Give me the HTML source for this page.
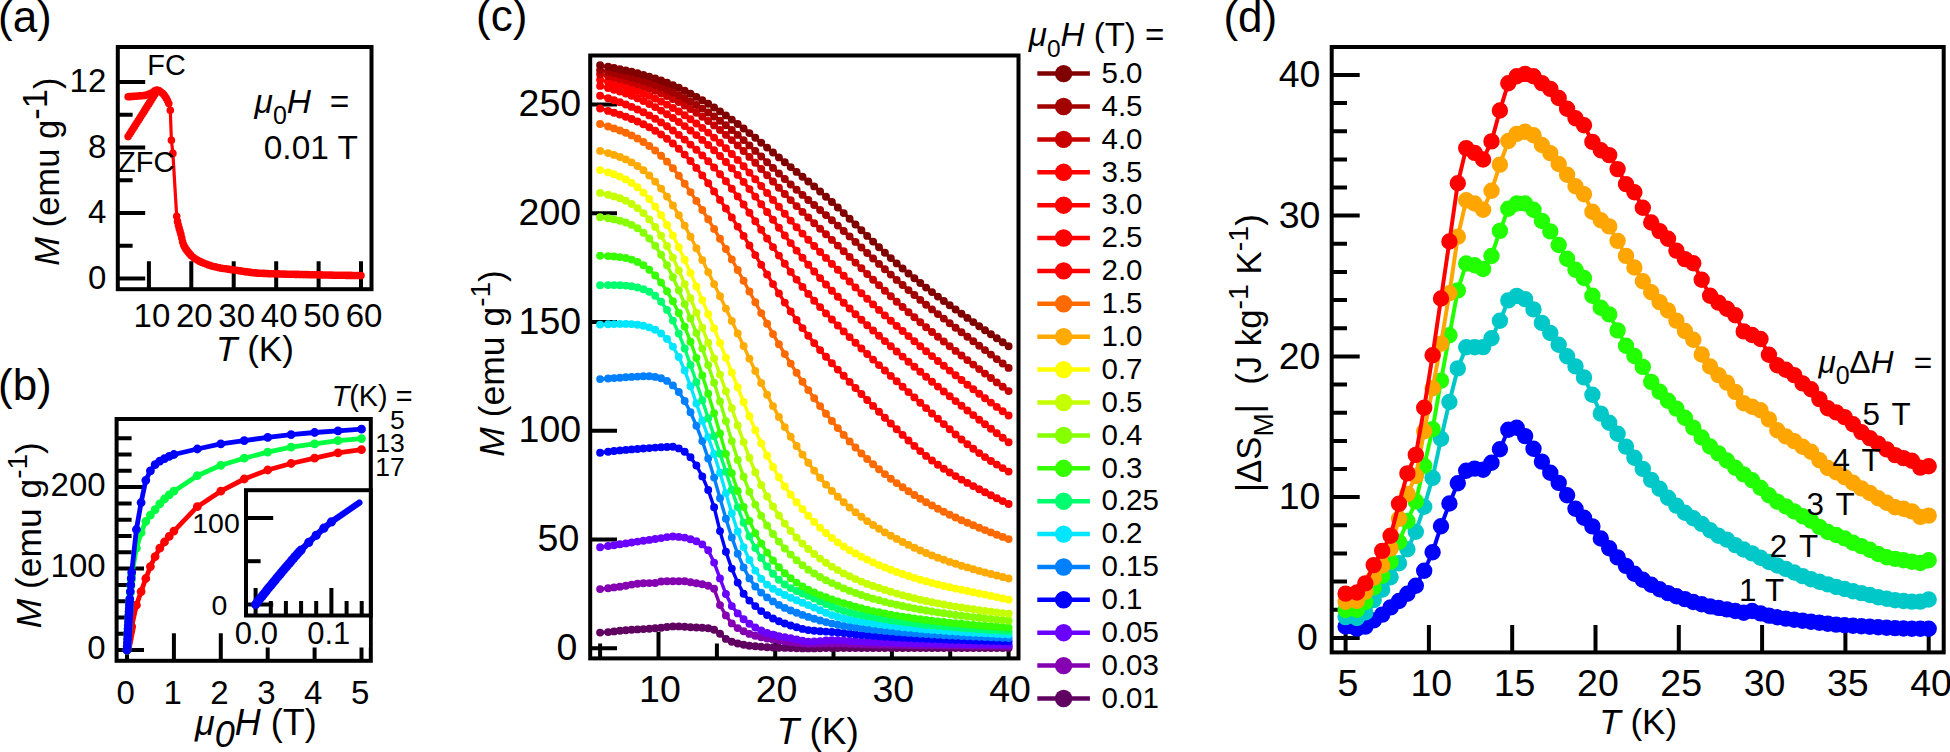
<!DOCTYPE html>
<html lang="en"><head><meta charset="utf-8"><title>Magnetization and magnetic entropy change</title>
<style>
html,body{margin:0;padding:0;background:#fff;}
body{width:1950px;height:752px;overflow:hidden;}
svg{display:block;font-family:"Liberation Sans", sans-serif;fill:#000;}
</style></head><body>
<svg width="1950" height="752" viewBox="0 0 1950 752">
<rect width="1950" height="752" fill="#fff"/>
<g id="pa">
<path d="M148.9 289.2v-28M191.3 289.2v-28M233.7 289.2v-28M276.2 289.2v-28M318.6 289.2v-28M361 289.2v-28" stroke="#000" stroke-width="4.0" fill="none"/>
<path d="M117.8 278.5h27.4M117.8 213h27.4M117.8 147.5h27.4M117.8 81.9h27.4" stroke="#000" stroke-width="4.0" fill="none"/>
<path d="M117.8 245.7h14.8M117.8 180.2h14.8M117.8 114.7h14.8" stroke="#000" stroke-width="4.0" fill="none"/>
<rect x="117.8" y="47" width="253.7" height="242.2" fill="none" stroke="#000" stroke-width="4.0"/>
<path d="M128.1 136.6L129.4 134.6L130.7 132.6L131.9 130.6L133.2 128.6L134.5 126.6L135.7 124.6L137 122.5L138.3 120.5L139.6 118.5L140.8 116.5L142.1 114.5L143.4 112.5L144.7 110.4L145.9 108.4L147.2 106.4L148.5 104.4L149.7 102.4L151 100.4L152.3 98.3L153.6 96.3L154.8 94.3L156.1 92.3L157.4 90.3" fill="none" stroke="#ff0000" stroke-width="3.2" stroke-linejoin="round" stroke-linecap="round"/>
<path d="M128.1 136.6h.01M129.4 134.6h.01M130.7 132.6h.01M131.9 130.6h.01M133.2 128.6h.01M134.5 126.6h.01M135.7 124.6h.01M137 122.5h.01M138.3 120.5h.01M139.6 118.5h.01M140.8 116.5h.01M142.1 114.5h.01M143.4 112.5h.01M144.7 110.4h.01M145.9 108.4h.01M147.2 106.4h.01M148.5 104.4h.01M149.7 102.4h.01M151 100.4h.01M152.3 98.3h.01M153.6 96.3h.01M154.8 94.3h.01M156.1 92.3h.01M157.4 90.3h.01" fill="none" stroke="#ff0000" stroke-width="7.6" stroke-linecap="round"/>
<path d="M128.1 96.7L129.4 96.6L130.7 96.6L131.9 96.5L133.2 96.4L134.5 96.3L135.7 96.2L137 96.1L138.3 96L139.6 95.9L140.8 95.8L142.1 95.7L143.4 95.5L144.7 95.4L145.9 95.1L147.2 94.8L148.5 94.4L149.7 93.9L151 93.4L152.3 92.7L153.6 91.8L154.8 90.9L156.1 90.3L157.4 90.2L158.7 90.6L159.9 91.3L161.2 92.3L162.5 93.3L163.7 94.6L165 96.3L166.3 98.4L167.6 100.8L168.8 103.6L170.3 110.3L171.4 140.3L172.9 153.4L176.7 216.3L177.5 221.4L178.4 225.2L179.2 228.4L180.1 231.2L180.9 234.3L181.8 238.1L182.6 241.8L183.5 244.5L184.3 246.3L185.2 247.9L186 249.2L186.9 250.4L187.7 251.5L188.6 252.6L189.4 253.6L190.3 254.6L191.1 255.5L191.3 255.7L193.4 257.5L195.6 259L197.7 260.3L199.8 261.4L201.9 262.4L204 263.3L206.2 264.1L208.3 264.9L210.4 265.6L212.5 266.2L214.7 266.8L216.8 267.3L218.9 267.8L221 268.2L223.1 268.5L225.3 268.8L227.4 269.1L229.5 269.4L231.6 269.7L233.7 270L235.9 270.3L238 270.6L240.1 270.9L242.2 271.2L244.3 271.6L246.5 271.9L248.6 272.1L250.7 272.4L252.8 272.7L254.9 272.9L257.1 273.1L259.2 273.2L261.3 273.3L263.4 273.4L265.6 273.5L267.7 273.6L269.8 273.7L271.9 273.8L274 273.8L276.2 273.9L278.3 273.9L280.4 274L282.5 274.1L284.6 274.1L286.8 274.2L288.9 274.2L291 274.3L293.1 274.3L295.2 274.4L297.4 274.4L299.5 274.5L301.6 274.5L303.7 274.6L305.9 274.6L308 274.6L310.1 274.7L312.2 274.7L314.3 274.8L316.5 274.8L318.6 274.9L320.7 274.9L322.8 275L324.9 275L327.1 275L329.2 275.1L331.3 275.1L333.4 275.2L335.5 275.2L337.7 275.2L339.8 275.3L341.9 275.3L344 275.3L346.2 275.4L348.3 275.4L350.4 275.4L352.5 275.5L354.6 275.5L356.8 275.5L358.9 275.5L361 275.6" fill="none" stroke="#ff0000" stroke-width="3.2" stroke-linejoin="round" stroke-linecap="round"/>
<path d="M128.1 96.7h.01M129.4 96.6h.01M130.7 96.6h.01M131.9 96.5h.01M133.2 96.4h.01M134.5 96.3h.01M135.7 96.2h.01M137 96.1h.01M138.3 96h.01M139.6 95.9h.01M140.8 95.8h.01M142.1 95.7h.01M143.4 95.5h.01M144.7 95.4h.01M145.9 95.1h.01M147.2 94.8h.01M148.5 94.4h.01M149.7 93.9h.01M151 93.4h.01M152.3 92.7h.01M153.6 91.8h.01M154.8 90.9h.01M156.1 90.3h.01M157.4 90.2h.01M158.7 90.6h.01M159.9 91.3h.01M161.2 92.3h.01M162.5 93.3h.01M163.7 94.6h.01M165 96.3h.01M166.3 98.4h.01M167.6 100.8h.01M168.8 103.6h.01M170.3 110.3h.01M171.4 140.3h.01M172.9 153.4h.01M176.7 216.3h.01M177.5 221.4h.01M178.4 225.2h.01M179.2 228.4h.01M180.1 231.2h.01M180.9 234.3h.01M181.8 238.1h.01M182.6 241.8h.01M183.5 244.5h.01M184.3 246.3h.01M185.2 247.9h.01M186 249.2h.01M186.9 250.4h.01M187.7 251.5h.01M188.6 252.6h.01M189.4 253.6h.01M190.3 254.6h.01M191.1 255.5h.01M191.3 255.7h.01M193.4 257.5h.01M195.6 259h.01M197.7 260.3h.01M199.8 261.4h.01M201.9 262.4h.01M204 263.3h.01M206.2 264.1h.01M208.3 264.9h.01M210.4 265.6h.01M212.5 266.2h.01M214.7 266.8h.01M216.8 267.3h.01M218.9 267.8h.01M221 268.2h.01M223.1 268.5h.01M225.3 268.8h.01M227.4 269.1h.01M229.5 269.4h.01M231.6 269.7h.01M233.7 270h.01M235.9 270.3h.01M238 270.6h.01M240.1 270.9h.01M242.2 271.2h.01M244.3 271.6h.01M246.5 271.9h.01M248.6 272.1h.01M250.7 272.4h.01M252.8 272.7h.01M254.9 272.9h.01M257.1 273.1h.01M259.2 273.2h.01M261.3 273.3h.01M263.4 273.4h.01M265.6 273.5h.01M267.7 273.6h.01M269.8 273.7h.01M271.9 273.8h.01M274 273.8h.01M276.2 273.9h.01M278.3 273.9h.01M280.4 274h.01M282.5 274.1h.01M284.6 274.1h.01M286.8 274.2h.01M288.9 274.2h.01M291 274.3h.01M293.1 274.3h.01M295.2 274.4h.01M297.4 274.4h.01M299.5 274.5h.01M301.6 274.5h.01M303.7 274.6h.01M305.9 274.6h.01M308 274.6h.01M310.1 274.7h.01M312.2 274.7h.01M314.3 274.8h.01M316.5 274.8h.01M318.6 274.9h.01M320.7 274.9h.01M322.8 275h.01M324.9 275h.01M327.1 275h.01M329.2 275.1h.01M331.3 275.1h.01M333.4 275.2h.01M335.5 275.2h.01M337.7 275.2h.01M339.8 275.3h.01M341.9 275.3h.01M344 275.3h.01M346.2 275.4h.01M348.3 275.4h.01M350.4 275.4h.01M352.5 275.5h.01M354.6 275.5h.01M356.8 275.5h.01M358.9 275.5h.01M361 275.6h.01" fill="none" stroke="#ff0000" stroke-width="7.6" stroke-linecap="round"/>
<text x="106.3" y="288.9" font-size="33" text-anchor="end">0</text>
<text x="106.3" y="223.4" font-size="33" text-anchor="end">4</text>
<text x="106.3" y="157.9" font-size="33" text-anchor="end">8</text>
<text x="106.3" y="92.3" font-size="33" text-anchor="end">12</text>
<text x="151.9" y="327.2" font-size="33" text-anchor="middle">10</text>
<text x="194.3" y="327.2" font-size="33" text-anchor="middle">20</text>
<text x="236.7" y="327.2" font-size="33" text-anchor="middle">30</text>
<text x="279.2" y="327.2" font-size="33" text-anchor="middle">40</text>
<text x="321.6" y="327.2" font-size="33" text-anchor="middle">50</text>
<text x="364" y="327.2" font-size="33" text-anchor="middle">60</text>
<text x="-2" y="31.6" font-size="44" text-anchor="start">(a)</text>
<text x="216.1" y="361" font-size="35" text-anchor="start"><tspan font-style="italic">T</tspan> (K)</text>
<text transform="translate(59 265.8) rotate(-90)" font-size="34.6"><tspan font-style="italic">M</tspan> (emu g<tspan font-size="34.6" dy="-11.7">-1</tspan><tspan dy="11.7">&#8203;</tspan>)</text>
<text x="147.3" y="75.2" font-size="28.8" text-anchor="start">FC</text>
<text x="118" y="172.3" font-size="29" text-anchor="start">ZFC</text>
<text x="254.6" y="113.1" font-size="33.5" text-anchor="start"><tspan font-style="italic">&#956;</tspan><tspan font-size="25" dy="10.5">0</tspan><tspan dy="-10.5">&#8203;</tspan><tspan font-style="italic">H</tspan>&#160;&#160;=</text>
<text x="263.8" y="158.9" font-size="33.4" text-anchor="start">0.01 T</text>
</g>
<g id="pb">
<path d="M127 660.8v-27.6M173.9 660.8v-27.6M220.8 660.8v-27.6M267.7 660.8v-27.6M314.6 660.8v-27.6M361.5 660.8v-27.6" stroke="#000" stroke-width="4.0" fill="none"/>
<path d="M116.6 650.1h27.4M116.6 568.6h27.4M116.6 487.1h27.4" stroke="#000" stroke-width="4.0" fill="none"/>
<path d="M116.6 633.8h15M116.6 617.5h15M116.6 601.2h15M116.6 584.9h15M116.6 552.3h15M116.6 536h15M116.6 519.7h15M116.6 503.4h15M116.6 470.8h15M116.6 454.5h15M116.6 438.2h15" stroke="#000" stroke-width="4.0" fill="none"/>
<rect x="116.6" y="419" width="254.2" height="241.8" fill="none" stroke="#000" stroke-width="4.0"/>
<path d="M127 650.1L127.2 649.1L127.4 648.1L127.6 647.1L127.8 646.1L127.9 645.2L128.1 644.2L128.3 643.2L128.5 642.2L128.7 641.3L128.9 640.3L129.1 639.4L129.3 638.4L129.4 637.5L129.6 636.5L129.8 635.6L130.3 633.3L130.8 631L131.2 628.7L131.7 626.5L136.4 605.2L141.1 591.6L145.8 578.5L150.4 566.6L155.1 556.6L159.8 548.2L164.5 542L169.2 536.4L173.9 531.1L197.3 506.7L220.8 491.2L244.2 479L267.7 470L291.1 463.5L314.6 458.2L338 452.9L361.5 449.6" fill="none" stroke="#ff0000" stroke-width="4.8" stroke-linejoin="round" stroke-linecap="round"/>
<path d="M127 650.1h.01M127.2 649.1h.01M127.4 648.1h.01M127.6 647.1h.01M127.8 646.1h.01M127.9 645.2h.01M128.1 644.2h.01M128.3 643.2h.01M128.5 642.2h.01M128.7 641.3h.01M128.9 640.3h.01M129.1 639.4h.01M129.3 638.4h.01M129.4 637.5h.01M129.6 636.5h.01M129.8 635.6h.01M130.3 633.3h.01M130.8 631h.01M131.2 628.7h.01M131.7 626.5h.01M136.4 605.2h.01M141.1 591.6h.01M145.8 578.5h.01M150.4 566.6h.01M155.1 556.6h.01M159.8 548.2h.01M164.5 542h.01M169.2 536.4h.01M173.9 531.1h.01M197.3 506.7h.01M220.8 491.2h.01M244.2 479h.01M267.7 470h.01M291.1 463.5h.01M314.6 458.2h.01M338 452.9h.01M361.5 449.6h.01" fill="none" stroke="#ff0000" stroke-width="8.8" stroke-linecap="round"/>
<path d="M127 650.1L127.2 646.4L127.4 642.8L127.6 639.2L127.8 635.7L127.9 632.2L128.1 628.7L128.3 625.2L128.5 621.7L128.7 618.4L128.9 615.1L129.1 611.8L129.3 608.6L129.4 605.5L129.6 602.5L129.8 599.6L130.3 592.8L130.8 586.5L131.2 580.3L131.7 575.1L136.4 548.2L141.1 532.7L145.8 521.3L150.4 515.1L155.1 509.6L159.8 503.8L164.5 499L169.2 494.9L173.9 491.2L197.3 475.7L220.8 465.3L244.2 458.2L267.7 452.1L291.1 447.2L314.6 443.9L338 440.6L361.5 438.6" fill="none" stroke="#00ff40" stroke-width="4.8" stroke-linejoin="round" stroke-linecap="round"/>
<path d="M127 650.1h.01M127.2 646.4h.01M127.4 642.8h.01M127.6 639.2h.01M127.8 635.7h.01M127.9 632.2h.01M128.1 628.7h.01M128.3 625.2h.01M128.5 621.7h.01M128.7 618.4h.01M128.9 615.1h.01M129.1 611.8h.01M129.3 608.6h.01M129.4 605.5h.01M129.6 602.5h.01M129.8 599.6h.01M130.3 592.8h.01M130.8 586.5h.01M131.2 580.3h.01M131.7 575.1h.01M136.4 548.2h.01M141.1 532.7h.01M145.8 521.3h.01M150.4 515.1h.01M155.1 509.6h.01M159.8 503.8h.01M164.5 499h.01M169.2 494.9h.01M173.9 491.2h.01M197.3 475.7h.01M220.8 465.3h.01M244.2 458.2h.01M267.7 452.1h.01M291.1 447.2h.01M314.6 443.9h.01M338 440.6h.01M361.5 438.6h.01" fill="none" stroke="#00ff40" stroke-width="8.8" stroke-linecap="round"/>
<path d="M127 650.1L127.2 646.4L127.4 642.8L127.6 639.2L127.8 635.7L127.9 632.2L128.1 628.7L128.3 625.2L128.5 621.8L128.7 618.4L128.9 615.1L129.1 611.7L129.3 608.4L129.4 605L129.6 601.8L129.8 598.8L130.3 591.6L130.8 584.9L131.2 578.3L131.7 572.3L136.4 529.5L141.1 502.6L145.8 480.3L150.4 470.8L155.1 464.6L159.8 461.1L164.5 458.6L169.2 456.3L173.9 454.5L197.3 449L220.8 443.9L244.2 440.6L267.7 437.4L291.1 434.6L314.6 432.5L338 430.9L361.5 429.2" fill="none" stroke="#0000ff" stroke-width="4.8" stroke-linejoin="round" stroke-linecap="round"/>
<path d="M127 650.1h.01M127.2 646.4h.01M127.4 642.8h.01M127.6 639.2h.01M127.8 635.7h.01M127.9 632.2h.01M128.1 628.7h.01M128.3 625.2h.01M128.5 621.8h.01M128.7 618.4h.01M128.9 615.1h.01M129.1 611.7h.01M129.3 608.4h.01M129.4 605h.01M129.6 601.8h.01M129.8 598.8h.01M130.3 591.6h.01M130.8 584.9h.01M131.2 578.3h.01M131.7 572.3h.01M136.4 529.5h.01M141.1 502.6h.01M145.8 480.3h.01M150.4 470.8h.01M155.1 464.6h.01M159.8 461.1h.01M164.5 458.6h.01M169.2 456.3h.01M173.9 454.5h.01M197.3 449h.01M220.8 443.9h.01M244.2 440.6h.01M267.7 437.4h.01M291.1 434.6h.01M314.6 432.5h.01M338 430.9h.01M361.5 429.2h.01" fill="none" stroke="#0000ff" stroke-width="8.8" stroke-linecap="round"/>
<rect x="246.0" y="490.2" width="124.8" height="125.3" fill="#fff" stroke="none"/>
<rect x="232" y="615.5" width="136.8" height="32" fill="#fff" stroke="none"/>
<path d="M255.6 615.5v-27.4M331.4 615.5v-27.4" stroke="#000" stroke-width="4.0" fill="none"/>
<path d="M270.8 615.5v-14.5M285.9 615.5v-14.5M301.1 615.5v-14.5M316.2 615.5v-14.5M346.6 615.5v-14.5M361.7 615.5v-14.5" stroke="#000" stroke-width="4.0" fill="none"/>
<path d="M246 604.4h27.2M246 518h27.2" stroke="#000" stroke-width="4.0" fill="none"/>
<path d="M246 561.2h14.6" stroke="#000" stroke-width="4.0" fill="none"/>
<rect x="246" y="490.2" width="124.8" height="125.3" fill="none" stroke="#000" stroke-width="4.0"/>
<path d="M255.6 604.4L257.1 602.5L258.6 600.5L260.1 598.6L261.7 596.7L263.2 594.8L264.7 592.9L266.2 591L267.7 589.1L269.2 587.3L270.8 585.4L272.3 583.5L273.8 581.7L275.3 579.9L276.8 578L278.3 576.2L279.9 574.4L281.4 572.6L282.9 570.8L284.4 569L285.9 567.2L287.4 565.5L289 563.7L290.5 561.9L292 560.1L293.5 558.4L295 556.6L296.5 554.9L298 553.2L299.6 551.6L301.1 550L308.7 542.4L316.2 535.3L323.8 528.2L331.4 521.9L359.4 502.6" fill="none" stroke="#0000ff" stroke-width="6.3" stroke-linejoin="round" stroke-linecap="round"/>
<path d="M255.6 604.4h.01M257.1 602.5h.01M258.6 600.5h.01M260.1 598.6h.01M261.7 596.7h.01M263.2 594.8h.01M264.7 592.9h.01M266.2 591h.01M267.7 589.1h.01M269.2 587.3h.01M270.8 585.4h.01M272.3 583.5h.01M273.8 581.7h.01M275.3 579.9h.01M276.8 578h.01M278.3 576.2h.01M279.9 574.4h.01M281.4 572.6h.01M282.9 570.8h.01M284.4 569h.01M285.9 567.2h.01M287.4 565.5h.01M289 563.7h.01M290.5 561.9h.01M292 560.1h.01M293.5 558.4h.01M295 556.6h.01M296.5 554.9h.01M298 553.2h.01M299.6 551.6h.01M301.1 550h.01M308.7 542.4h.01M316.2 535.3h.01M323.8 528.2h.01M331.4 521.9h.01" fill="none" stroke="#0000ff" stroke-width="9.2" stroke-linecap="round"/>
<text x="239.8" y="533.4" font-size="28.5" text-anchor="end">100</text>
<text x="227.4" y="614.8" font-size="28.5" text-anchor="end">0</text>
<text x="256.4" y="643.7" font-size="31" text-anchor="middle">0.0</text>
<text x="328.8" y="643.7" font-size="31" text-anchor="middle">0.1</text>
<text x="105.6" y="658.9" font-size="33" text-anchor="end">0</text>
<text x="105.6" y="577.4" font-size="33" text-anchor="end">100</text>
<text x="105.6" y="495.9" font-size="33" text-anchor="end">200</text>
<text x="125.7" y="703.6" font-size="33" text-anchor="middle">0</text>
<text x="172.6" y="703.6" font-size="33" text-anchor="middle">1</text>
<text x="219.5" y="703.6" font-size="33" text-anchor="middle">2</text>
<text x="266.4" y="703.6" font-size="33" text-anchor="middle">3</text>
<text x="313.3" y="703.6" font-size="33" text-anchor="middle">4</text>
<text x="360.2" y="703.6" font-size="33" text-anchor="middle">5</text>
<text x="-2" y="399.6" font-size="44" text-anchor="start">(b)</text>
<text transform="translate(41 628.3) rotate(-90)" font-size="35.4"><tspan font-style="italic">M</tspan> (emu g<tspan font-size="28" dy="-14">-1</tspan><tspan dy="14">&#8203;</tspan>)</text>
<text x="194.9" y="734.6" font-size="36" text-anchor="start"><tspan font-style="italic">&#956;</tspan><tspan font-size="36" dy="12" font-style="italic">0</tspan><tspan dy="-12">&#8203;</tspan><tspan font-style="italic">H</tspan> (T)</text>
<text x="331.7" y="406.3" font-size="28.8" text-anchor="start"><tspan font-style="italic">T</tspan>(K) =</text>
<text x="404.8" y="428.7" font-size="26.5" text-anchor="end">5</text>
<text x="404.8" y="451.8" font-size="26.5" text-anchor="end">13</text>
<text x="404.8" y="475.7" font-size="26.5" text-anchor="end">17</text>
</g>
<g id="pc">
<path d="M658.5 658.4v-26.6M775.2 658.4v-26.6M891.9 658.4v-26.6M1008.6 658.4v-26.6" stroke="#000" stroke-width="4.0" fill="none"/>
<path d="M600.1 658.4v-15M716.9 658.4v-15M833.5 658.4v-15M950.2 658.4v-15" stroke="#000" stroke-width="4.0" fill="none"/>
<path d="M590.2 648.3h26.8M590.2 539.5h26.8M590.2 430.8h26.8M590.2 322h26.8M590.2 213.3h26.8M590.2 104.5h26.8" stroke="#000" stroke-width="4.0" fill="none"/>
<rect x="590.2" y="55.5" width="428.3" height="602.9" fill="none" stroke="#000" stroke-width="4.0"/>
<path d="M600.1 632.6L608.1 632.1L614 631.4L619.9 630.7L625.8 630.2L631.6 629.8L637.5 629.4L643.4 629.1L649.3 628.7L655.2 628.3L661.1 627.7L667 627L672.9 626.4L678.8 626.4L684.7 626.8L690.5 627.2L696.4 627.5L702.3 627.8L708.2 628.3L714.1 629.7L720 633.7L725.9 638.9L731.8 641.7L737.7 643.5L743.6 644.8L749.4 645.7L755.3 646.3L761.2 646.8L767.1 647.2L773 647.5L778.9 647.7L784.8 647.9L790.7 648.1L796.6 648.3L802.5 648.4L808.3 648.4L814.2 648.4L820.1 648.2L826 648.1L831.9 648L837.8 648L843.7 648L849.6 648L855.5 648L861.4 648L867.2 648L873.1 648L879 648L884.9 648L890.8 648L896.7 648L902.6 648L908.5 648L914.4 648L920.3 648L926.1 648L932 648L937.9 648L943.8 648L949.7 648L955.6 648L961.5 648L967.4 648L973.3 648L979.2 648L985 648L990.9 648L996.8 648L1002.7 648L1008.6 648" fill="none" stroke="#600060" stroke-width="3.4" stroke-linejoin="round" stroke-linecap="round"/>
<path d="M600.1 632.6h.01M608.1 632.1h.01M614 631.4h.01M619.9 630.7h.01M625.8 630.2h.01M631.6 629.8h.01M637.5 629.4h.01M643.4 629.1h.01M649.3 628.7h.01M655.2 628.3h.01M661.1 627.7h.01M667 627h.01M672.9 626.4h.01M678.8 626.4h.01M684.7 626.8h.01M690.5 627.2h.01M696.4 627.5h.01M702.3 627.8h.01M708.2 628.3h.01M714.1 629.7h.01M720 633.7h.01M725.9 638.9h.01M731.8 641.7h.01M737.7 643.5h.01M743.6 644.8h.01M749.4 645.7h.01M755.3 646.3h.01M761.2 646.8h.01M767.1 647.2h.01M773 647.5h.01M778.9 647.7h.01M784.8 647.9h.01M790.7 648.1h.01M796.6 648.3h.01M802.5 648.4h.01M808.3 648.4h.01M814.2 648.4h.01M820.1 648.2h.01M826 648.1h.01M831.9 648h.01M837.8 648h.01M843.7 648h.01M849.6 648h.01M855.5 648h.01M861.4 648h.01M867.2 648h.01M873.1 648h.01M879 648h.01M884.9 648h.01M890.8 648h.01M896.7 648h.01M902.6 648h.01M908.5 648h.01M914.4 648h.01M920.3 648h.01M926.1 648h.01M932 648h.01M937.9 648h.01M943.8 648h.01M949.7 648h.01M955.6 648h.01M961.5 648h.01M967.4 648h.01M973.3 648h.01M979.2 648h.01M985 648h.01M990.9 648h.01M996.8 648h.01M1002.7 648h.01M1008.6 648h.01" fill="none" stroke="#600060" stroke-width="7.9" stroke-linecap="round"/>
<path d="M600.1 589.1L608.1 588.2L614 587.4L619.9 586.7L625.8 585.8L631.6 584.6L637.5 583.7L643.4 583.2L649.3 583.1L655.2 583L661.1 581.5L667 581.2L672.9 581.2L678.8 581.2L684.7 581.3L690.5 582.2L696.4 583.2L702.3 584.2L708.2 585.8L714.1 588.8L720 605.1L725.9 615.4L731.8 623.4L737.7 628.1L743.6 631.3L749.4 633.9L755.3 635.8L761.2 637.3L767.1 638.5L773 639.6L778.9 640.5L784.8 641.4L790.7 642.3L796.6 643L802.5 643.6L808.3 643.9L814.2 643.8L820.1 643.7L826 643.5L831.9 643.5L837.8 643.5L843.7 643.6L849.6 643.9L855.5 644.1L861.4 644.3L867.2 644.4L873.1 644.6L879 644.7L884.9 644.8L890.8 644.9L896.7 645L902.6 645.1L908.5 645.2L914.4 645.3L920.3 645.4L926.1 645.5L932 645.5L937.9 645.6L943.8 645.7L949.7 645.7L955.6 645.8L961.5 645.9L967.4 645.9L973.3 646L979.2 646L985 646.1L990.9 646.1L996.8 646.1L1002.7 646.2L1008.6 646.2" fill="none" stroke="#8400b0" stroke-width="3.4" stroke-linejoin="round" stroke-linecap="round"/>
<path d="M600.1 589.1h.01M608.1 588.2h.01M614 587.4h.01M619.9 586.7h.01M625.8 585.8h.01M631.6 584.6h.01M637.5 583.7h.01M643.4 583.2h.01M649.3 583.1h.01M655.2 583h.01M661.1 581.5h.01M667 581.2h.01M672.9 581.2h.01M678.8 581.2h.01M684.7 581.3h.01M690.5 582.2h.01M696.4 583.2h.01M702.3 584.2h.01M708.2 585.8h.01M714.1 588.8h.01M720 605.1h.01M725.9 615.4h.01M731.8 623.4h.01M737.7 628.1h.01M743.6 631.3h.01M749.4 633.9h.01M755.3 635.8h.01M761.2 637.3h.01M767.1 638.5h.01M773 639.6h.01M778.9 640.5h.01M784.8 641.4h.01M790.7 642.3h.01M796.6 643h.01M802.5 643.6h.01M808.3 643.9h.01M814.2 643.8h.01M820.1 643.7h.01M826 643.5h.01M831.9 643.5h.01M837.8 643.5h.01M843.7 643.6h.01M849.6 643.9h.01M855.5 644.1h.01M861.4 644.3h.01M867.2 644.4h.01M873.1 644.6h.01M879 644.7h.01M884.9 644.8h.01M890.8 644.9h.01M896.7 645h.01M902.6 645.1h.01M908.5 645.2h.01M914.4 645.3h.01M920.3 645.4h.01M926.1 645.5h.01M932 645.5h.01M937.9 645.6h.01M943.8 645.7h.01M949.7 645.7h.01M955.6 645.8h.01M961.5 645.9h.01M967.4 645.9h.01M973.3 646h.01M979.2 646h.01M985 646.1h.01M990.9 646.1h.01M996.8 646.1h.01M1002.7 646.2h.01M1008.6 646.2h.01" fill="none" stroke="#8400b0" stroke-width="7.9" stroke-linecap="round"/>
<path d="M600.1 547.2L608.1 546L614 545.2L619.9 544.3L625.8 543.4L631.6 542.5L637.5 541.6L643.4 540.7L649.3 539.9L655.2 539L661.1 538.1L667 537.1L672.9 536.5L678.8 536.9L684.7 537.6L690.5 539.2L696.4 541.3L702.3 544.4L708.2 550.3L714.1 562.6L720 578.4L725.9 594L731.8 606.1L737.7 613.4L743.6 619.2L749.4 623.8L755.3 627.5L761.2 630.5L767.1 632.9L773 634.8L778.9 636.2L784.8 637.3L790.7 638.3L796.6 639.4L802.5 640.7L808.3 641.6L814.2 641.5L820.1 641.1L826 640.5L831.9 640.2L837.8 640.3L843.7 640.5L849.6 640.9L855.5 641.3L861.4 641.6L867.2 641.9L873.1 642.1L879 642.3L884.9 642.5L890.8 642.7L896.7 642.9L902.6 643L908.5 643.2L914.4 643.3L920.3 643.4L926.1 643.6L932 643.7L937.9 643.8L943.8 643.9L949.7 644L955.6 644.1L961.5 644.2L967.4 644.3L973.3 644.4L979.2 644.5L985 644.6L990.9 644.6L996.8 644.7L1002.7 644.8L1008.6 644.9" fill="none" stroke="#6a00ff" stroke-width="3.4" stroke-linejoin="round" stroke-linecap="round"/>
<path d="M600.1 547.2h.01M608.1 546h.01M614 545.2h.01M619.9 544.3h.01M625.8 543.4h.01M631.6 542.5h.01M637.5 541.6h.01M643.4 540.7h.01M649.3 539.9h.01M655.2 539h.01M661.1 538.1h.01M667 537.1h.01M672.9 536.5h.01M678.8 536.9h.01M684.7 537.6h.01M690.5 539.2h.01M696.4 541.3h.01M702.3 544.4h.01M708.2 550.3h.01M714.1 562.6h.01M720 578.4h.01M725.9 594h.01M731.8 606.1h.01M737.7 613.4h.01M743.6 619.2h.01M749.4 623.8h.01M755.3 627.5h.01M761.2 630.5h.01M767.1 632.9h.01M773 634.8h.01M778.9 636.2h.01M784.8 637.3h.01M790.7 638.3h.01M796.6 639.4h.01M802.5 640.7h.01M808.3 641.6h.01M814.2 641.5h.01M820.1 641.1h.01M826 640.5h.01M831.9 640.2h.01M837.8 640.3h.01M843.7 640.5h.01M849.6 640.9h.01M855.5 641.3h.01M861.4 641.6h.01M867.2 641.9h.01M873.1 642.1h.01M879 642.3h.01M884.9 642.5h.01M890.8 642.7h.01M896.7 642.9h.01M902.6 643h.01M908.5 643.2h.01M914.4 643.3h.01M920.3 643.4h.01M926.1 643.6h.01M932 643.7h.01M937.9 643.8h.01M943.8 643.9h.01M949.7 644h.01M955.6 644.1h.01M961.5 644.2h.01M967.4 644.3h.01M973.3 644.4h.01M979.2 644.5h.01M985 644.6h.01M990.9 644.6h.01M996.8 644.7h.01M1002.7 644.8h.01M1008.6 644.9h.01" fill="none" stroke="#6a00ff" stroke-width="7.9" stroke-linecap="round"/>
<path d="M600.1 452.8L608.1 451.7L614 451L619.9 450.4L625.8 449.9L631.6 449.4L637.5 449L643.4 448.5L649.3 448.1L655.2 447.6L661.1 447.3L667 447L672.9 446.8L678.8 448.4L684.7 451.7L690.5 457.2L696.4 465.5L702.3 476.4L708.2 490L714.1 507.3L720 531.1L725.9 551.7L731.8 568.6L737.7 582.6L743.6 593.8L749.4 600.6L755.3 606.1L761.2 611.1L767.1 615.1L773 618.5L778.9 621.2L784.8 623.5L790.7 625.5L796.6 627.2L802.5 628.9L808.3 630.1L814.2 630.8L820.1 631.2L826 631.6L831.9 632L837.8 632.5L843.7 633.1L849.6 633.8L855.5 634.4L861.4 635L867.2 635.4L873.1 635.9L879 636.3L884.9 636.7L890.8 637.1L896.7 637.4L902.6 637.7L908.5 638L914.4 638.3L920.3 638.6L926.1 638.8L932 639.1L937.9 639.3L943.8 639.5L949.7 639.8L955.6 640L961.5 640.1L967.4 640.3L973.3 640.5L979.2 640.7L985 640.8L990.9 641L996.8 641.1L1002.7 641.3L1008.6 641.4" fill="none" stroke="#0000ff" stroke-width="3.4" stroke-linejoin="round" stroke-linecap="round"/>
<path d="M600.1 452.8h.01M608.1 451.7h.01M614 451h.01M619.9 450.4h.01M625.8 449.9h.01M631.6 449.4h.01M637.5 449h.01M643.4 448.5h.01M649.3 448.1h.01M655.2 447.6h.01M661.1 447.3h.01M667 447h.01M672.9 446.8h.01M678.8 448.4h.01M684.7 451.7h.01M690.5 457.2h.01M696.4 465.5h.01M702.3 476.4h.01M708.2 490h.01M714.1 507.3h.01M720 531.1h.01M725.9 551.7h.01M731.8 568.6h.01M737.7 582.6h.01M743.6 593.8h.01M749.4 600.6h.01M755.3 606.1h.01M761.2 611.1h.01M767.1 615.1h.01M773 618.5h.01M778.9 621.2h.01M784.8 623.5h.01M790.7 625.5h.01M796.6 627.2h.01M802.5 628.9h.01M808.3 630.1h.01M814.2 630.8h.01M820.1 631.2h.01M826 631.6h.01M831.9 632h.01M837.8 632.5h.01M843.7 633.1h.01M849.6 633.8h.01M855.5 634.4h.01M861.4 635h.01M867.2 635.4h.01M873.1 635.9h.01M879 636.3h.01M884.9 636.7h.01M890.8 637.1h.01M896.7 637.4h.01M902.6 637.7h.01M908.5 638h.01M914.4 638.3h.01M920.3 638.6h.01M926.1 638.8h.01M932 639.1h.01M937.9 639.3h.01M943.8 639.5h.01M949.7 639.8h.01M955.6 640h.01M961.5 640.1h.01M967.4 640.3h.01M973.3 640.5h.01M979.2 640.7h.01M985 640.8h.01M990.9 641h.01M996.8 641.1h.01M1002.7 641.3h.01M1008.6 641.4h.01" fill="none" stroke="#0000ff" stroke-width="7.9" stroke-linecap="round"/>
<path d="M600.1 379.1L608.1 378.5L614 378.1L619.9 377.7L625.8 377.3L631.6 376.9L637.5 376.6L643.4 376.3L649.3 376.3L655.2 376.9L661.1 378.3L667 380.9L672.9 385.4L678.8 392L684.7 401L690.5 412.3L696.4 425.7L702.3 441.1L708.2 458.5L714.1 477.6L720 498.2L725.9 518.7L731.8 537.4L737.7 553.7L743.6 567.4L749.4 578.4L755.3 586.5L761.2 592.6L767.1 597.4L773 601.4L778.9 604.9L784.8 607.9L790.7 610.5L796.6 612.8L802.5 614.9L808.3 616.9L814.2 618.7L820.1 620.5L826 622.1L831.9 623.6L837.8 624.8L843.7 625.9L849.6 626.8L855.5 627.6L861.4 628.3L867.2 629L873.1 629.7L879 630.3L884.9 630.9L890.8 631.4L896.7 632L902.6 632.4L908.5 632.9L914.4 633.3L920.3 633.7L926.1 634.1L932 634.5L937.9 634.8L943.8 635.2L949.7 635.5L955.6 635.8L961.5 636.1L967.4 636.3L973.3 636.6L979.2 636.8L985 637.1L990.9 637.3L996.8 637.5L1002.7 637.7L1008.6 638" fill="none" stroke="#0080ff" stroke-width="3.4" stroke-linejoin="round" stroke-linecap="round"/>
<path d="M600.1 379.1h.01M608.1 378.5h.01M614 378.1h.01M619.9 377.7h.01M625.8 377.3h.01M631.6 376.9h.01M637.5 376.6h.01M643.4 376.3h.01M649.3 376.3h.01M655.2 376.9h.01M661.1 378.3h.01M667 380.9h.01M672.9 385.4h.01M678.8 392h.01M684.7 401h.01M690.5 412.3h.01M696.4 425.7h.01M702.3 441.1h.01M708.2 458.5h.01M714.1 477.6h.01M720 498.2h.01M725.9 518.7h.01M731.8 537.4h.01M737.7 553.7h.01M743.6 567.4h.01M749.4 578.4h.01M755.3 586.5h.01M761.2 592.6h.01M767.1 597.4h.01M773 601.4h.01M778.9 604.9h.01M784.8 607.9h.01M790.7 610.5h.01M796.6 612.8h.01M802.5 614.9h.01M808.3 616.9h.01M814.2 618.7h.01M820.1 620.5h.01M826 622.1h.01M831.9 623.6h.01M837.8 624.8h.01M843.7 625.9h.01M849.6 626.8h.01M855.5 627.6h.01M861.4 628.3h.01M867.2 629h.01M873.1 629.7h.01M879 630.3h.01M884.9 630.9h.01M890.8 631.4h.01M896.7 632h.01M902.6 632.4h.01M908.5 632.9h.01M914.4 633.3h.01M920.3 633.7h.01M926.1 634.1h.01M932 634.5h.01M937.9 634.8h.01M943.8 635.2h.01M949.7 635.5h.01M955.6 635.8h.01M961.5 636.1h.01M967.4 636.3h.01M973.3 636.6h.01M979.2 636.8h.01M985 637.1h.01M990.9 637.3h.01M996.8 637.5h.01M1002.7 637.7h.01M1008.6 638h.01" fill="none" stroke="#0080ff" stroke-width="7.9" stroke-linecap="round"/>
<path d="M600.1 324.6L608.1 324.3L614 324.1L619.9 323.9L625.8 323.9L631.6 324.1L637.5 324.7L643.4 325.7L649.3 327.4L655.2 329.8L661.1 333.5L667 338.9L672.9 346.6L678.8 357L684.7 370.4L690.5 386.2L696.4 403.5L702.3 420.8L708.2 437.1L714.1 454L720 472.8L725.9 493.1L731.8 513.2L737.7 531.5L743.6 547.1L749.4 560L755.3 570.6L761.2 578.8L767.1 584.6L773 588.7L778.9 592L784.8 595L790.7 597.8L796.6 600.3L802.5 602.7L808.3 605.1L814.2 607.6L820.1 610.2L826 612.8L831.9 615.1L837.8 617L843.7 618.5L849.6 619.8L855.5 620.8L861.4 621.8L867.2 622.6L873.1 623.5L879 624.3L884.9 625.1L890.8 625.8L896.7 626.5L902.6 627.2L908.5 627.8L914.4 628.3L920.3 628.9L926.1 629.4L932 629.9L937.9 630.3L943.8 630.8L949.7 631.2L955.6 631.6L961.5 632L967.4 632.4L973.3 632.7L979.2 633L985 633.3L990.9 633.6L996.8 633.9L1002.7 634.2L1008.6 634.5" fill="none" stroke="#00e6ff" stroke-width="3.4" stroke-linejoin="round" stroke-linecap="round"/>
<path d="M600.1 324.6h.01M608.1 324.3h.01M614 324.1h.01M619.9 323.9h.01M625.8 323.9h.01M631.6 324.1h.01M637.5 324.7h.01M643.4 325.7h.01M649.3 327.4h.01M655.2 329.8h.01M661.1 333.5h.01M667 338.9h.01M672.9 346.6h.01M678.8 357h.01M684.7 370.4h.01M690.5 386.2h.01M696.4 403.5h.01M702.3 420.8h.01M708.2 437.1h.01M714.1 454h.01M720 472.8h.01M725.9 493.1h.01M731.8 513.2h.01M737.7 531.5h.01M743.6 547.1h.01M749.4 560h.01M755.3 570.6h.01M761.2 578.8h.01M767.1 584.6h.01M773 588.7h.01M778.9 592h.01M784.8 595h.01M790.7 597.8h.01M796.6 600.3h.01M802.5 602.7h.01M808.3 605.1h.01M814.2 607.6h.01M820.1 610.2h.01M826 612.8h.01M831.9 615.1h.01M837.8 617h.01M843.7 618.5h.01M849.6 619.8h.01M855.5 620.8h.01M861.4 621.8h.01M867.2 622.6h.01M873.1 623.5h.01M879 624.3h.01M884.9 625.1h.01M890.8 625.8h.01M896.7 626.5h.01M902.6 627.2h.01M908.5 627.8h.01M914.4 628.3h.01M920.3 628.9h.01M926.1 629.4h.01M932 629.9h.01M937.9 630.3h.01M943.8 630.8h.01M949.7 631.2h.01M955.6 631.6h.01M961.5 632h.01M967.4 632.4h.01M973.3 632.7h.01M979.2 633h.01M985 633.3h.01M990.9 633.6h.01M996.8 633.9h.01M1002.7 634.2h.01M1008.6 634.5h.01" fill="none" stroke="#00e6ff" stroke-width="7.9" stroke-linecap="round"/>
<path d="M600.1 285.3L608.1 285.1L614 285.1L619.9 285.2L625.8 285.6L631.6 286.3L637.5 287.5L643.4 289.2L649.3 291.8L655.2 295.8L661.1 301.7L667 309.9L672.9 320.6L678.8 333.6L684.7 348.5L690.5 364.9L696.4 382.3L702.3 400.2L708.2 418.3L714.1 436.1L720 453.8L725.9 471.8L731.8 489.8L737.7 507.1L743.6 522.8L749.4 536.4L755.3 548L761.2 558L767.1 566.5L773 573.7L778.9 579.7L784.8 584.5L790.7 588.1L796.6 591L802.5 593.5L808.3 595.9L814.2 598.6L820.1 601.4L826 604.1L831.9 606.7L837.8 609L843.7 610.9L849.6 612.5L855.5 613.9L861.4 615.1L867.2 616.2L873.1 617.3L879 618.3L884.9 619.3L890.8 620.2L896.7 621.1L902.6 621.9L908.5 622.6L914.4 623.3L920.3 624L926.1 624.7L932 625.3L937.9 625.9L943.8 626.4L949.7 626.9L955.6 627.4L961.5 627.9L967.4 628.4L973.3 628.8L979.2 629.2L985 629.6L990.9 630L996.8 630.3L1002.7 630.7L1008.6 631.1" fill="none" stroke="#00ff6e" stroke-width="3.4" stroke-linejoin="round" stroke-linecap="round"/>
<path d="M600.1 285.3h.01M608.1 285.1h.01M614 285.1h.01M619.9 285.2h.01M625.8 285.6h.01M631.6 286.3h.01M637.5 287.5h.01M643.4 289.2h.01M649.3 291.8h.01M655.2 295.8h.01M661.1 301.7h.01M667 309.9h.01M672.9 320.6h.01M678.8 333.6h.01M684.7 348.5h.01M690.5 364.9h.01M696.4 382.3h.01M702.3 400.2h.01M708.2 418.3h.01M714.1 436.1h.01M720 453.8h.01M725.9 471.8h.01M731.8 489.8h.01M737.7 507.1h.01M743.6 522.8h.01M749.4 536.4h.01M755.3 548h.01M761.2 558h.01M767.1 566.5h.01M773 573.7h.01M778.9 579.7h.01M784.8 584.5h.01M790.7 588.1h.01M796.6 591h.01M802.5 593.5h.01M808.3 595.9h.01M814.2 598.6h.01M820.1 601.4h.01M826 604.1h.01M831.9 606.7h.01M837.8 609h.01M843.7 610.9h.01M849.6 612.5h.01M855.5 613.9h.01M861.4 615.1h.01M867.2 616.2h.01M873.1 617.3h.01M879 618.3h.01M884.9 619.3h.01M890.8 620.2h.01M896.7 621.1h.01M902.6 621.9h.01M908.5 622.6h.01M914.4 623.3h.01M920.3 624h.01M926.1 624.7h.01M932 625.3h.01M937.9 625.9h.01M943.8 626.4h.01M949.7 626.9h.01M955.6 627.4h.01M961.5 627.9h.01M967.4 628.4h.01M973.3 628.8h.01M979.2 629.2h.01M985 629.6h.01M990.9 630h.01M996.8 630.3h.01M1002.7 630.7h.01M1008.6 631.1h.01" fill="none" stroke="#00ff6e" stroke-width="7.9" stroke-linecap="round"/>
<path d="M600.1 255.8L608.1 256.1L614 256.5L619.9 257.1L625.8 258L631.6 259.6L637.5 261.9L643.4 265.2L649.3 269.7L655.2 275.5L661.1 282.6L667 291.2L672.9 301.3L678.8 313L684.7 326.6L690.5 341.7L696.4 358L702.3 375.4L708.2 393.8L714.1 413.3L720 433.5L725.9 453.9L731.8 473.2L737.7 491L743.6 506.9L749.4 520.9L755.3 533.1L761.2 543.5L767.1 552.6L773 560.5L778.9 567.3L784.8 573.2L790.7 578.2L796.6 582.6L802.5 586.4L808.3 589.7L814.2 592.5L820.1 595.1L826 597.3L831.9 599.4L837.8 601.4L843.7 603.2L849.6 605L855.5 606.7L861.4 608.3L867.2 609.7L873.1 611.1L879 612.3L884.9 613.5L890.8 614.6L896.7 615.6L902.6 616.6L908.5 617.5L914.4 618.4L920.3 619.2L926.1 619.9L932 620.7L937.9 621.4L943.8 622L949.7 622.7L955.6 623.3L961.5 623.8L967.4 624.4L973.3 624.9L979.2 625.4L985 625.9L990.9 626.3L996.8 626.8L1002.7 627.2L1008.6 627.6" fill="none" stroke="#35ff00" stroke-width="3.4" stroke-linejoin="round" stroke-linecap="round"/>
<path d="M600.1 255.8h.01M608.1 256.1h.01M614 256.5h.01M619.9 257.1h.01M625.8 258h.01M631.6 259.6h.01M637.5 261.9h.01M643.4 265.2h.01M649.3 269.7h.01M655.2 275.5h.01M661.1 282.6h.01M667 291.2h.01M672.9 301.3h.01M678.8 313h.01M684.7 326.6h.01M690.5 341.7h.01M696.4 358h.01M702.3 375.4h.01M708.2 393.8h.01M714.1 413.3h.01M720 433.5h.01M725.9 453.9h.01M731.8 473.2h.01M737.7 491h.01M743.6 506.9h.01M749.4 520.9h.01M755.3 533.1h.01M761.2 543.5h.01M767.1 552.6h.01M773 560.5h.01M778.9 567.3h.01M784.8 573.2h.01M790.7 578.2h.01M796.6 582.6h.01M802.5 586.4h.01M808.3 589.7h.01M814.2 592.5h.01M820.1 595.1h.01M826 597.3h.01M831.9 599.4h.01M837.8 601.4h.01M843.7 603.2h.01M849.6 605h.01M855.5 606.7h.01M861.4 608.3h.01M867.2 609.7h.01M873.1 611.1h.01M879 612.3h.01M884.9 613.5h.01M890.8 614.6h.01M896.7 615.6h.01M902.6 616.6h.01M908.5 617.5h.01M914.4 618.4h.01M920.3 619.2h.01M926.1 619.9h.01M932 620.7h.01M937.9 621.4h.01M943.8 622h.01M949.7 622.7h.01M955.6 623.3h.01M961.5 623.8h.01M967.4 624.4h.01M973.3 624.9h.01M979.2 625.4h.01M985 625.9h.01M990.9 626.3h.01M996.8 626.8h.01M1002.7 627.2h.01M1008.6 627.6h.01" fill="none" stroke="#35ff00" stroke-width="7.9" stroke-linecap="round"/>
<path d="M600.1 217.2L608.1 218.3L614 219.4L619.9 220.7L625.8 222.5L631.6 224.9L637.5 228.2L643.4 232.7L649.3 238.5L655.2 245.8L661.1 254.8L667 265.3L672.9 277.3L678.8 290.3L684.7 304.1L690.5 318.4L696.4 333.1L702.3 348.6L708.2 365.1L714.1 382.8L720 401.5L725.9 421.1L731.8 441.1L737.7 459.9L743.6 476.8L749.4 491.7L755.3 504.6L761.2 515.8L767.1 525.5L773 534L778.9 541.6L784.8 548.5L790.7 554.6L796.6 560.2L802.5 565.2L808.3 569.7L814.2 573.5L820.1 577L826 580.2L831.9 583.1L837.8 585.8L843.7 588.4L849.6 590.7L855.5 592.9L861.4 595L867.2 596.9L873.1 598.7L879 600.3L884.9 601.9L890.8 603.4L896.7 604.7L902.6 606L908.5 607.2L914.4 608.4L920.3 609.5L926.1 610.5L932 611.5L937.9 612.4L943.8 613.3L949.7 614.1L955.6 614.9L961.5 615.7L967.4 616.4L973.3 617.1L979.2 617.7L985 618.4L990.9 619L996.8 619.6L1002.7 620.1L1008.6 620.7" fill="none" stroke="#86ff00" stroke-width="3.4" stroke-linejoin="round" stroke-linecap="round"/>
<path d="M600.1 217.2h.01M608.1 218.3h.01M614 219.4h.01M619.9 220.7h.01M625.8 222.5h.01M631.6 224.9h.01M637.5 228.2h.01M643.4 232.7h.01M649.3 238.5h.01M655.2 245.8h.01M661.1 254.8h.01M667 265.3h.01M672.9 277.3h.01M678.8 290.3h.01M684.7 304.1h.01M690.5 318.4h.01M696.4 333.1h.01M702.3 348.6h.01M708.2 365.1h.01M714.1 382.8h.01M720 401.5h.01M725.9 421.1h.01M731.8 441.1h.01M737.7 459.9h.01M743.6 476.8h.01M749.4 491.7h.01M755.3 504.6h.01M761.2 515.8h.01M767.1 525.5h.01M773 534h.01M778.9 541.6h.01M784.8 548.5h.01M790.7 554.6h.01M796.6 560.2h.01M802.5 565.2h.01M808.3 569.7h.01M814.2 573.5h.01M820.1 577h.01M826 580.2h.01M831.9 583.1h.01M837.8 585.8h.01M843.7 588.4h.01M849.6 590.7h.01M855.5 592.9h.01M861.4 595h.01M867.2 596.9h.01M873.1 598.7h.01M879 600.3h.01M884.9 601.9h.01M890.8 603.4h.01M896.7 604.7h.01M902.6 606h.01M908.5 607.2h.01M914.4 608.4h.01M920.3 609.5h.01M926.1 610.5h.01M932 611.5h.01M937.9 612.4h.01M943.8 613.3h.01M949.7 614.1h.01M955.6 614.9h.01M961.5 615.7h.01M967.4 616.4h.01M973.3 617.1h.01M979.2 617.7h.01M985 618.4h.01M990.9 619h.01M996.8 619.6h.01M1002.7 620.1h.01M1008.6 620.7h.01" fill="none" stroke="#86ff00" stroke-width="7.9" stroke-linecap="round"/>
<path d="M600.1 192.9L608.1 194.8L614 196.4L619.9 198.3L625.8 200.8L631.6 204L637.5 208.1L643.4 213.1L649.3 219.4L655.2 226.9L661.1 235.8L667 246L672.9 257.6L678.8 270.4L684.7 284.1L690.5 298.3L696.4 312.8L702.3 327.6L708.2 342.8L714.1 358.5L720 374.6L725.9 391.3L731.8 408.3L737.7 425.4L743.6 442.1L749.4 457.8L755.3 472.2L761.2 485L767.1 496.4L773 506.5L778.9 515.5L784.8 523.6L790.7 530.9L796.6 537.6L802.5 543.6L808.3 549L814.2 554L820.1 558.6L826 562.8L831.9 566.6L837.8 570.1L843.7 573.4L849.6 576.3L855.5 579.1L861.4 581.6L867.2 583.9L873.1 586L879 587.9L884.9 589.9L890.8 591.8L896.7 593.6L902.6 595.3L908.5 596.8L914.4 598.3L920.3 599.7L926.1 601L932 602.3L937.9 603.4L943.8 604.5L949.7 605.6L955.6 606.6L961.5 607.5L967.4 608.4L973.3 609.3L979.2 610.1L985 610.9L990.9 611.6L996.8 612.4L1002.7 613.1L1008.6 613.8" fill="none" stroke="#c6ff00" stroke-width="3.4" stroke-linejoin="round" stroke-linecap="round"/>
<path d="M600.1 192.9h.01M608.1 194.8h.01M614 196.4h.01M619.9 198.3h.01M625.8 200.8h.01M631.6 204h.01M637.5 208.1h.01M643.4 213.1h.01M649.3 219.4h.01M655.2 226.9h.01M661.1 235.8h.01M667 246h.01M672.9 257.6h.01M678.8 270.4h.01M684.7 284.1h.01M690.5 298.3h.01M696.4 312.8h.01M702.3 327.6h.01M708.2 342.8h.01M714.1 358.5h.01M720 374.6h.01M725.9 391.3h.01M731.8 408.3h.01M737.7 425.4h.01M743.6 442.1h.01M749.4 457.8h.01M755.3 472.2h.01M761.2 485h.01M767.1 496.4h.01M773 506.5h.01M778.9 515.5h.01M784.8 523.6h.01M790.7 530.9h.01M796.6 537.6h.01M802.5 543.6h.01M808.3 549h.01M814.2 554h.01M820.1 558.6h.01M826 562.8h.01M831.9 566.6h.01M837.8 570.1h.01M843.7 573.4h.01M849.6 576.3h.01M855.5 579.1h.01M861.4 581.6h.01M867.2 583.9h.01M873.1 586h.01M879 587.9h.01M884.9 589.9h.01M890.8 591.8h.01M896.7 593.6h.01M902.6 595.3h.01M908.5 596.8h.01M914.4 598.3h.01M920.3 599.7h.01M926.1 601h.01M932 602.3h.01M937.9 603.4h.01M943.8 604.5h.01M949.7 605.6h.01M955.6 606.6h.01M961.5 607.5h.01M967.4 608.4h.01M973.3 609.3h.01M979.2 610.1h.01M985 610.9h.01M990.9 611.6h.01M996.8 612.4h.01M1002.7 613.1h.01M1008.6 613.8h.01" fill="none" stroke="#c6ff00" stroke-width="7.9" stroke-linecap="round"/>
<path d="M600.1 170.1L608.1 172.4L614 174.3L619.9 176.6L625.8 179.4L631.6 182.9L637.5 187.2L643.4 192.6L649.3 199L655.2 206.6L661.1 215.2L667 224.9L672.9 235.6L678.8 247.3L684.7 259.8L690.5 272.9L696.4 286.4L702.3 300.1L708.2 314.2L714.1 328.4L720 343L725.9 357.7L731.8 372.5L737.7 387.3L743.6 402L749.4 416.3L755.3 430.2L761.2 443.3L767.1 455.7L773 467L778.9 477.3L784.8 486.5L790.7 494.7L796.6 502.2L802.5 509.1L808.3 515.7L814.2 521.9L820.1 527.7L826 533L831.9 537.9L837.8 542.4L843.7 546.5L849.6 550.2L855.5 553.5L861.4 556.7L867.2 559.6L873.1 562.4L879 565.1L884.9 567.5L890.8 569.8L896.7 572L902.6 574L908.5 576L914.4 577.9L920.3 579.7L926.1 581.3L932 582.9L937.9 584.5L943.8 585.9L949.7 587.3L955.6 588.6L961.5 589.8L967.4 591L973.3 592.2L979.2 593.5L985 594.6L990.9 595.9L996.8 597.1L1002.7 598.4L1008.6 599.8" fill="none" stroke="#ffff00" stroke-width="3.4" stroke-linejoin="round" stroke-linecap="round"/>
<path d="M600.1 170.1h.01M608.1 172.4h.01M614 174.3h.01M619.9 176.6h.01M625.8 179.4h.01M631.6 182.9h.01M637.5 187.2h.01M643.4 192.6h.01M649.3 199h.01M655.2 206.6h.01M661.1 215.2h.01M667 224.9h.01M672.9 235.6h.01M678.8 247.3h.01M684.7 259.8h.01M690.5 272.9h.01M696.4 286.4h.01M702.3 300.1h.01M708.2 314.2h.01M714.1 328.4h.01M720 343h.01M725.9 357.7h.01M731.8 372.5h.01M737.7 387.3h.01M743.6 402h.01M749.4 416.3h.01M755.3 430.2h.01M761.2 443.3h.01M767.1 455.7h.01M773 467h.01M778.9 477.3h.01M784.8 486.5h.01M790.7 494.7h.01M796.6 502.2h.01M802.5 509.1h.01M808.3 515.7h.01M814.2 521.9h.01M820.1 527.7h.01M826 533h.01M831.9 537.9h.01M837.8 542.4h.01M843.7 546.5h.01M849.6 550.2h.01M855.5 553.5h.01M861.4 556.7h.01M867.2 559.6h.01M873.1 562.4h.01M879 565.1h.01M884.9 567.5h.01M890.8 569.8h.01M896.7 572h.01M902.6 574h.01M908.5 576h.01M914.4 577.9h.01M920.3 579.7h.01M926.1 581.3h.01M932 582.9h.01M937.9 584.5h.01M943.8 585.9h.01M949.7 587.3h.01M955.6 588.6h.01M961.5 589.8h.01M967.4 591h.01M973.3 592.2h.01M979.2 593.5h.01M985 594.6h.01M990.9 595.9h.01M996.8 597.1h.01M1002.7 598.4h.01M1008.6 599.8h.01" fill="none" stroke="#ffff00" stroke-width="7.9" stroke-linecap="round"/>
<path d="M600.1 150.9L608.1 153.1L614 154.9L619.9 157L625.8 159.4L631.6 162.4L637.5 166L643.4 170.3L649.3 175.5L655.2 181.6L661.1 188.6L667 196.6L672.9 205.5L678.8 215.2L684.7 225.6L690.5 236.7L696.4 248.2L702.3 260.1L708.2 272.1L714.1 284.1L720 296.3L725.9 308.6L731.8 320.9L737.7 333.5L743.6 346L749.4 358.6L755.3 370.9L761.2 383L767.1 394.8L773 406.1L778.9 416.9L784.8 427.1L790.7 436.8L796.6 446L802.5 454.6L808.3 462.8L814.2 470.6L820.1 477.8L826 484.6L831.9 490.9L837.8 496.8L843.7 502.3L849.6 507.5L855.5 512.3L861.4 516.8L867.2 521.1L873.1 525L879 528.8L884.9 532.4L890.8 535.7L896.7 538.9L902.6 542L908.5 544.9L914.4 547.7L920.3 550.4L926.1 553L932 555.4L937.9 557.7L943.8 559.8L949.7 561.9L955.6 563.8L961.5 565.7L967.4 567.4L973.3 569.2L979.2 570.9L985 572.5L990.9 574L996.8 575.5L1002.7 577L1008.6 578.5" fill="none" stroke="#ffaa00" stroke-width="3.4" stroke-linejoin="round" stroke-linecap="round"/>
<path d="M600.1 150.9h.01M608.1 153.1h.01M614 154.9h.01M619.9 157h.01M625.8 159.4h.01M631.6 162.4h.01M637.5 166h.01M643.4 170.3h.01M649.3 175.5h.01M655.2 181.6h.01M661.1 188.6h.01M667 196.6h.01M672.9 205.5h.01M678.8 215.2h.01M684.7 225.6h.01M690.5 236.7h.01M696.4 248.2h.01M702.3 260.1h.01M708.2 272.1h.01M714.1 284.1h.01M720 296.3h.01M725.9 308.6h.01M731.8 320.9h.01M737.7 333.5h.01M743.6 346h.01M749.4 358.6h.01M755.3 370.9h.01M761.2 383h.01M767.1 394.8h.01M773 406.1h.01M778.9 416.9h.01M784.8 427.1h.01M790.7 436.8h.01M796.6 446h.01M802.5 454.6h.01M808.3 462.8h.01M814.2 470.6h.01M820.1 477.8h.01M826 484.6h.01M831.9 490.9h.01M837.8 496.8h.01M843.7 502.3h.01M849.6 507.5h.01M855.5 512.3h.01M861.4 516.8h.01M867.2 521.1h.01M873.1 525h.01M879 528.8h.01M884.9 532.4h.01M890.8 535.7h.01M896.7 538.9h.01M902.6 542h.01M908.5 544.9h.01M914.4 547.7h.01M920.3 550.4h.01M926.1 553h.01M932 555.4h.01M937.9 557.7h.01M943.8 559.8h.01M949.7 561.9h.01M955.6 563.8h.01M961.5 565.7h.01M967.4 567.4h.01M973.3 569.2h.01M979.2 570.9h.01M985 572.5h.01M990.9 574h.01M996.8 575.5h.01M1002.7 577h.01M1008.6 578.5h.01" fill="none" stroke="#ffaa00" stroke-width="7.9" stroke-linecap="round"/>
<path d="M600.1 124L608.1 126.5L614 128.4L619.9 130.5L625.8 132.8L631.6 135.4L637.5 138.5L643.4 142L649.3 146L655.2 150.5L661.1 155.7L667 161.6L672.9 168.3L678.8 175.7L684.7 183.7L690.5 192.1L696.4 200.9L702.3 210L708.2 219.3L714.1 228.9L720 238.8L725.9 249L731.8 259.4L737.7 270L743.6 280.7L749.4 291.5L755.3 302.3L761.2 313.1L767.1 323.7L773 334.1L778.9 344.2L784.8 354.1L790.7 363.6L796.6 372.8L802.5 381.7L808.3 390.1L814.2 398.3L820.1 406.1L826 413.7L831.9 421L837.8 428.1L843.7 434.9L849.6 441.4L855.5 447.5L861.4 453.4L867.2 459L873.1 464.3L879 469.3L884.9 474.1L890.8 478.7L896.7 483.1L902.6 487.2L908.5 491.2L914.4 495L920.3 498.7L926.1 502.2L932 505.5L937.9 508.7L943.8 511.8L949.7 514.7L955.6 517.5L961.5 520.2L967.4 522.8L973.3 525.3L979.2 527.8L985 530.1L990.9 532.4L996.8 534.7L1002.7 536.9L1008.6 539.1" fill="none" stroke="#ff6a00" stroke-width="3.4" stroke-linejoin="round" stroke-linecap="round"/>
<path d="M600.1 124h.01M608.1 126.5h.01M614 128.4h.01M619.9 130.5h.01M625.8 132.8h.01M631.6 135.4h.01M637.5 138.5h.01M643.4 142h.01M649.3 146h.01M655.2 150.5h.01M661.1 155.7h.01M667 161.6h.01M672.9 168.3h.01M678.8 175.7h.01M684.7 183.7h.01M690.5 192.1h.01M696.4 200.9h.01M702.3 210h.01M708.2 219.3h.01M714.1 228.9h.01M720 238.8h.01M725.9 249h.01M731.8 259.4h.01M737.7 270h.01M743.6 280.7h.01M749.4 291.5h.01M755.3 302.3h.01M761.2 313.1h.01M767.1 323.7h.01M773 334.1h.01M778.9 344.2h.01M784.8 354.1h.01M790.7 363.6h.01M796.6 372.8h.01M802.5 381.7h.01M808.3 390.1h.01M814.2 398.3h.01M820.1 406.1h.01M826 413.7h.01M831.9 421h.01M837.8 428.1h.01M843.7 434.9h.01M849.6 441.4h.01M855.5 447.5h.01M861.4 453.4h.01M867.2 459h.01M873.1 464.3h.01M879 469.3h.01M884.9 474.1h.01M890.8 478.7h.01M896.7 483.1h.01M902.6 487.2h.01M908.5 491.2h.01M914.4 495h.01M920.3 498.7h.01M926.1 502.2h.01M932 505.5h.01M937.9 508.7h.01M943.8 511.8h.01M949.7 514.7h.01M955.6 517.5h.01M961.5 520.2h.01M967.4 522.8h.01M973.3 525.3h.01M979.2 527.8h.01M985 530.1h.01M990.9 532.4h.01M996.8 534.7h.01M1002.7 536.9h.01M1008.6 539.1h.01" fill="none" stroke="#ff6a00" stroke-width="7.9" stroke-linecap="round"/>
<path d="M600.1 108.5L608.1 110.9L614 112.7L619.9 114.6L625.8 116.7L631.6 119L637.5 121.5L643.4 124.3L649.3 127.3L655.2 130.7L661.1 134.5L667 138.7L672.9 143.5L678.8 148.7L684.7 154.6L690.5 161L696.4 167.9L702.3 175.4L708.2 183.2L714.1 191.4L720 199.9L725.9 208.5L731.8 217.4L737.7 226.6L743.6 235.9L749.4 245.5L755.3 255.1L761.2 264.8L767.1 274.5L773 284.1L778.9 293.4L784.8 302.6L790.7 311.5L796.6 320L802.5 328.1L808.3 335.8L814.2 343.1L820.1 350.1L826 356.8L831.9 363.3L837.8 369.6L843.7 375.8L849.6 381.9L855.5 388L861.4 394L867.2 400L873.1 405.9L879 411.8L884.9 417.7L890.8 423.5L896.7 429.3L902.6 434.9L908.5 440.5L914.4 445.9L920.3 451.1L926.1 455.9L932 460.5L937.9 464.7L943.8 468.7L949.7 472.5L955.6 476.1L961.5 479.6L967.4 482.9L973.3 486.1L979.2 489.2L985 492.3L990.9 495.3L996.8 498.2L1002.7 501.1L1008.6 504" fill="none" stroke="#ff0000" stroke-width="3.4" stroke-linejoin="round" stroke-linecap="round"/>
<path d="M600.1 108.5h.01M608.1 110.9h.01M614 112.7h.01M619.9 114.6h.01M625.8 116.7h.01M631.6 119h.01M637.5 121.5h.01M643.4 124.3h.01M649.3 127.3h.01M655.2 130.7h.01M661.1 134.5h.01M667 138.7h.01M672.9 143.5h.01M678.8 148.7h.01M684.7 154.6h.01M690.5 161h.01M696.4 167.9h.01M702.3 175.4h.01M708.2 183.2h.01M714.1 191.4h.01M720 199.9h.01M725.9 208.5h.01M731.8 217.4h.01M737.7 226.6h.01M743.6 235.9h.01M749.4 245.5h.01M755.3 255.1h.01M761.2 264.8h.01M767.1 274.5h.01M773 284.1h.01M778.9 293.4h.01M784.8 302.6h.01M790.7 311.5h.01M796.6 320h.01M802.5 328.1h.01M808.3 335.8h.01M814.2 343.1h.01M820.1 350.1h.01M826 356.8h.01M831.9 363.3h.01M837.8 369.6h.01M843.7 375.8h.01M849.6 381.9h.01M855.5 388h.01M861.4 394h.01M867.2 400h.01M873.1 405.9h.01M879 411.8h.01M884.9 417.7h.01M890.8 423.5h.01M896.7 429.3h.01M902.6 434.9h.01M908.5 440.5h.01M914.4 445.9h.01M920.3 451.1h.01M926.1 455.9h.01M932 460.5h.01M937.9 464.7h.01M943.8 468.7h.01M949.7 472.5h.01M955.6 476.1h.01M961.5 479.6h.01M967.4 482.9h.01M973.3 486.1h.01M979.2 489.2h.01M985 492.3h.01M990.9 495.3h.01M996.8 498.2h.01M1002.7 501.1h.01M1008.6 504h.01" fill="none" stroke="#ff0000" stroke-width="7.9" stroke-linecap="round"/>
<path d="M600.1 95.7L608.1 98.3L614 100.2L619.9 102.3L625.8 104.5L631.6 106.9L637.5 109.5L643.4 112.3L649.3 115.4L655.2 118.7L661.1 122.4L667 126.3L672.9 130.5L678.8 134.9L684.7 139.6L690.5 144.6L696.4 149.8L702.3 155.4L708.2 161.2L714.1 167.5L720 174.2L725.9 181.2L731.8 188.7L737.7 196.4L743.6 204.5L749.4 212.8L755.3 221.2L761.2 229.8L767.1 238.5L773 247.1L778.9 255.6L784.8 263.8L790.7 271.9L796.6 279.6L802.5 286.9L808.3 293.9L814.2 300.7L820.1 307.1L826 313.4L831.9 319.5L837.8 325.5L843.7 331.4L849.6 337.1L855.5 342.8L861.4 348.5L867.2 354L873.1 359.6L879 365.1L884.9 370.5L890.8 375.9L896.7 381.3L902.6 386.7L908.5 392.1L914.4 397.4L920.3 402.8L926.1 408.1L932 413.5L937.9 418.8L943.8 424.1L949.7 429.3L955.6 434.5L961.5 439.5L967.4 444.2L973.3 448.8L979.2 453.1L985 457.1L990.9 461L996.8 464.6L1002.7 468.1L1008.6 471.6" fill="none" stroke="#ff0000" stroke-width="3.4" stroke-linejoin="round" stroke-linecap="round"/>
<path d="M600.1 95.7h.01M608.1 98.3h.01M614 100.2h.01M619.9 102.3h.01M625.8 104.5h.01M631.6 106.9h.01M637.5 109.5h.01M643.4 112.3h.01M649.3 115.4h.01M655.2 118.7h.01M661.1 122.4h.01M667 126.3h.01M672.9 130.5h.01M678.8 134.9h.01M684.7 139.6h.01M690.5 144.6h.01M696.4 149.8h.01M702.3 155.4h.01M708.2 161.2h.01M714.1 167.5h.01M720 174.2h.01M725.9 181.2h.01M731.8 188.7h.01M737.7 196.4h.01M743.6 204.5h.01M749.4 212.8h.01M755.3 221.2h.01M761.2 229.8h.01M767.1 238.5h.01M773 247.1h.01M778.9 255.6h.01M784.8 263.8h.01M790.7 271.9h.01M796.6 279.6h.01M802.5 286.9h.01M808.3 293.9h.01M814.2 300.7h.01M820.1 307.1h.01M826 313.4h.01M831.9 319.5h.01M837.8 325.5h.01M843.7 331.4h.01M849.6 337.1h.01M855.5 342.8h.01M861.4 348.5h.01M867.2 354h.01M873.1 359.6h.01M879 365.1h.01M884.9 370.5h.01M890.8 375.9h.01M896.7 381.3h.01M902.6 386.7h.01M908.5 392.1h.01M914.4 397.4h.01M920.3 402.8h.01M926.1 408.1h.01M932 413.5h.01M937.9 418.8h.01M943.8 424.1h.01M949.7 429.3h.01M955.6 434.5h.01M961.5 439.5h.01M967.4 444.2h.01M973.3 448.8h.01M979.2 453.1h.01M985 457.1h.01M990.9 461h.01M996.8 464.6h.01M1002.7 468.1h.01M1008.6 471.6h.01" fill="none" stroke="#ff0000" stroke-width="7.9" stroke-linecap="round"/>
<path d="M600.1 85.9L608.1 88L614 89.7L619.9 91.6L625.8 93.6L631.6 95.8L637.5 98.3L643.4 101L649.3 104L655.2 107.1L661.1 110.6L667 114.2L672.9 118L678.8 122L684.7 126.1L690.5 130.5L696.4 135.1L702.3 139.9L708.2 145L714.1 150.3L720 156L725.9 162L731.8 168.3L737.7 174.9L743.6 181.9L749.4 189.1L755.3 196.6L761.2 204.2L767.1 212L773 219.8L778.9 227.7L784.8 235.5L790.7 243.1L796.6 250.6L802.5 257.8L808.3 264.8L814.2 271.5L820.1 278.1L826 284.5L831.9 290.7L837.8 296.8L843.7 302.8L849.6 308.5L855.5 314.2L861.4 319.7L867.2 325.2L873.1 330.5L879 335.8L884.9 341.1L890.8 346.3L896.7 351.5L902.6 356.6L908.5 361.7L914.4 366.7L920.3 371.8L926.1 376.7L932 381.7L937.9 386.6L943.8 391.5L949.7 396.3L955.6 401.1L961.5 405.8L967.4 410.5L973.3 415.1L979.2 419.7L985 424.3L990.9 428.8L996.8 433.3L1002.7 437.8L1008.6 442.2" fill="none" stroke="#ff0000" stroke-width="3.4" stroke-linejoin="round" stroke-linecap="round"/>
<path d="M600.1 85.9h.01M608.1 88h.01M614 89.7h.01M619.9 91.6h.01M625.8 93.6h.01M631.6 95.8h.01M637.5 98.3h.01M643.4 101h.01M649.3 104h.01M655.2 107.1h.01M661.1 110.6h.01M667 114.2h.01M672.9 118h.01M678.8 122h.01M684.7 126.1h.01M690.5 130.5h.01M696.4 135.1h.01M702.3 139.9h.01M708.2 145h.01M714.1 150.3h.01M720 156h.01M725.9 162h.01M731.8 168.3h.01M737.7 174.9h.01M743.6 181.9h.01M749.4 189.1h.01M755.3 196.6h.01M761.2 204.2h.01M767.1 212h.01M773 219.8h.01M778.9 227.7h.01M784.8 235.5h.01M790.7 243.1h.01M796.6 250.6h.01M802.5 257.8h.01M808.3 264.8h.01M814.2 271.5h.01M820.1 278.1h.01M826 284.5h.01M831.9 290.7h.01M837.8 296.8h.01M843.7 302.8h.01M849.6 308.5h.01M855.5 314.2h.01M861.4 319.7h.01M867.2 325.2h.01M873.1 330.5h.01M879 335.8h.01M884.9 341.1h.01M890.8 346.3h.01M896.7 351.5h.01M902.6 356.6h.01M908.5 361.7h.01M914.4 366.7h.01M920.3 371.8h.01M926.1 376.7h.01M932 381.7h.01M937.9 386.6h.01M943.8 391.5h.01M949.7 396.3h.01M955.6 401.1h.01M961.5 405.8h.01M967.4 410.5h.01M973.3 415.1h.01M979.2 419.7h.01M985 424.3h.01M990.9 428.8h.01M996.8 433.3h.01M1002.7 437.8h.01M1008.6 442.2h.01" fill="none" stroke="#ff0000" stroke-width="7.9" stroke-linecap="round"/>
<path d="M600.1 79.8L608.1 81.9L614 83.5L619.9 85.2L625.8 87L631.6 89L637.5 91.1L643.4 93.4L649.3 95.9L655.2 98.6L661.1 101.5L667 104.6L672.9 108L678.8 111.5L684.7 115.3L690.5 119.3L696.4 123.5L702.3 127.9L708.2 132.6L714.1 137.6L720 142.8L725.9 148.2L731.8 154L737.7 159.9L743.6 166.2L749.4 172.6L755.3 179.2L761.2 186L767.1 192.9L773 199.9L778.9 206.8L784.8 213.8L790.7 220.6L796.6 227.2L802.5 233.6L808.3 239.8L814.2 246L820.1 252L826 257.9L831.9 263.9L837.8 269.8L843.7 275.7L849.6 281.5L855.5 287.4L861.4 293.2L867.2 298.8L873.1 304.4L879 309.9L884.9 315.4L890.8 320.7L896.7 325.9L902.6 331L908.5 336.1L914.4 341.2L920.3 346.2L926.1 351.2L932 356.1L937.9 361L943.8 365.8L949.7 370.6L955.6 375.3L961.5 380L967.4 384.7L973.3 389.2L979.2 393.8L985 398.2L990.9 402.6L996.8 406.9L1002.7 411.2L1008.6 415.5" fill="none" stroke="#ff0000" stroke-width="3.4" stroke-linejoin="round" stroke-linecap="round"/>
<path d="M600.1 79.8h.01M608.1 81.9h.01M614 83.5h.01M619.9 85.2h.01M625.8 87h.01M631.6 89h.01M637.5 91.1h.01M643.4 93.4h.01M649.3 95.9h.01M655.2 98.6h.01M661.1 101.5h.01M667 104.6h.01M672.9 108h.01M678.8 111.5h.01M684.7 115.3h.01M690.5 119.3h.01M696.4 123.5h.01M702.3 127.9h.01M708.2 132.6h.01M714.1 137.6h.01M720 142.8h.01M725.9 148.2h.01M731.8 154h.01M737.7 159.9h.01M743.6 166.2h.01M749.4 172.6h.01M755.3 179.2h.01M761.2 186h.01M767.1 192.9h.01M773 199.9h.01M778.9 206.8h.01M784.8 213.8h.01M790.7 220.6h.01M796.6 227.2h.01M802.5 233.6h.01M808.3 239.8h.01M814.2 246h.01M820.1 252h.01M826 257.9h.01M831.9 263.9h.01M837.8 269.8h.01M843.7 275.7h.01M849.6 281.5h.01M855.5 287.4h.01M861.4 293.2h.01M867.2 298.8h.01M873.1 304.4h.01M879 309.9h.01M884.9 315.4h.01M890.8 320.7h.01M896.7 325.9h.01M902.6 331h.01M908.5 336.1h.01M914.4 341.2h.01M920.3 346.2h.01M926.1 351.2h.01M932 356.1h.01M937.9 361h.01M943.8 365.8h.01M949.7 370.6h.01M955.6 375.3h.01M961.5 380h.01M967.4 384.7h.01M973.3 389.2h.01M979.2 393.8h.01M985 398.2h.01M990.9 402.6h.01M996.8 406.9h.01M1002.7 411.2h.01M1008.6 415.5h.01" fill="none" stroke="#ff0000" stroke-width="7.9" stroke-linecap="round"/>
<path d="M600.1 74.3L608.1 76.1L614 77.5L619.9 79L625.8 80.6L631.6 82.3L637.5 84.2L643.4 86.2L649.3 88.4L655.2 90.8L661.1 93.3L667 96.1L672.9 99L678.8 102.1L684.7 105.5L690.5 109L696.4 112.8L702.3 116.8L708.2 121L714.1 125.4L720 130L725.9 134.9L731.8 140.1L737.7 145.4L743.6 151L749.4 156.9L755.3 162.8L761.2 169L767.1 175.2L773 181.5L778.9 187.8L784.8 194L790.7 200.1L796.6 206.1L802.5 211.9L808.3 217.5L814.2 223.2L820.1 228.7L826 234.3L831.9 239.9L837.8 245.6L843.7 251.2L849.6 256.9L855.5 262.6L861.4 268.3L867.2 274L873.1 279.7L879 285.3L884.9 290.8L890.8 296.3L896.7 301.7L902.6 307L908.5 312.2L914.4 317.3L920.3 322.3L926.1 327.2L932 332L937.9 336.8L943.8 341.5L949.7 346.2L955.6 350.9L961.5 355.5L967.4 360.1L973.3 364.6L979.2 369.1L985 373.6L990.9 378L996.8 382.4L1002.7 386.8L1008.6 391.1" fill="none" stroke="#c90000" stroke-width="3.4" stroke-linejoin="round" stroke-linecap="round"/>
<path d="M600.1 74.3h.01M608.1 76.1h.01M614 77.5h.01M619.9 79h.01M625.8 80.6h.01M631.6 82.3h.01M637.5 84.2h.01M643.4 86.2h.01M649.3 88.4h.01M655.2 90.8h.01M661.1 93.3h.01M667 96.1h.01M672.9 99h.01M678.8 102.1h.01M684.7 105.5h.01M690.5 109h.01M696.4 112.8h.01M702.3 116.8h.01M708.2 121h.01M714.1 125.4h.01M720 130h.01M725.9 134.9h.01M731.8 140.1h.01M737.7 145.4h.01M743.6 151h.01M749.4 156.9h.01M755.3 162.8h.01M761.2 169h.01M767.1 175.2h.01M773 181.5h.01M778.9 187.8h.01M784.8 194h.01M790.7 200.1h.01M796.6 206.1h.01M802.5 211.9h.01M808.3 217.5h.01M814.2 223.2h.01M820.1 228.7h.01M826 234.3h.01M831.9 239.9h.01M837.8 245.6h.01M843.7 251.2h.01M849.6 256.9h.01M855.5 262.6h.01M861.4 268.3h.01M867.2 274h.01M873.1 279.7h.01M879 285.3h.01M884.9 290.8h.01M890.8 296.3h.01M896.7 301.7h.01M902.6 307h.01M908.5 312.2h.01M914.4 317.3h.01M920.3 322.3h.01M926.1 327.2h.01M932 332h.01M937.9 336.8h.01M943.8 341.5h.01M949.7 346.2h.01M955.6 350.9h.01M961.5 355.5h.01M967.4 360.1h.01M973.3 364.6h.01M979.2 369.1h.01M985 373.6h.01M990.9 378h.01M996.8 382.4h.01M1002.7 386.8h.01M1008.6 391.1h.01" fill="none" stroke="#c90000" stroke-width="7.9" stroke-linecap="round"/>
<path d="M600.1 70.1L608.1 71.8L614 73.1L619.9 74.5L625.8 75.9L631.6 77.5L637.5 79.2L643.4 81L649.3 82.9L655.2 85L661.1 87.3L667 89.8L672.9 92.4L678.8 95.3L684.7 98.3L690.5 101.6L696.4 105L702.3 108.6L708.2 112.5L714.1 116.5L720 120.8L725.9 125.3L731.8 130L737.7 134.9L743.6 140.1L749.4 145.4L755.3 150.9L761.2 156.5L767.1 162.2L773 167.9L778.9 173.5L784.8 179L790.7 184.5L796.6 189.8L802.5 194.9L808.3 200L814.2 205L820.1 210L826 215.1L831.9 220.3L837.8 225.6L843.7 231L849.6 236.4L855.5 241.9L861.4 247.5L867.2 253L873.1 258.5L879 263.9L884.9 269.3L890.8 274.6L896.7 279.9L902.6 285L908.5 290.1L914.4 295L920.3 299.9L926.1 304.7L932 309.4L937.9 314.1L943.8 318.6L949.7 323.2L955.6 327.7L961.5 332.2L967.4 336.7L973.3 341.2L979.2 345.7L985 350.1L990.9 354.6L996.8 359.1L1002.7 363.5L1008.6 367.9" fill="none" stroke="#a30000" stroke-width="3.4" stroke-linejoin="round" stroke-linecap="round"/>
<path d="M600.1 70.1h.01M608.1 71.8h.01M614 73.1h.01M619.9 74.5h.01M625.8 75.9h.01M631.6 77.5h.01M637.5 79.2h.01M643.4 81h.01M649.3 82.9h.01M655.2 85h.01M661.1 87.3h.01M667 89.8h.01M672.9 92.4h.01M678.8 95.3h.01M684.7 98.3h.01M690.5 101.6h.01M696.4 105h.01M702.3 108.6h.01M708.2 112.5h.01M714.1 116.5h.01M720 120.8h.01M725.9 125.3h.01M731.8 130h.01M737.7 134.9h.01M743.6 140.1h.01M749.4 145.4h.01M755.3 150.9h.01M761.2 156.5h.01M767.1 162.2h.01M773 167.9h.01M778.9 173.5h.01M784.8 179h.01M790.7 184.5h.01M796.6 189.8h.01M802.5 194.9h.01M808.3 200h.01M814.2 205h.01M820.1 210h.01M826 215.1h.01M831.9 220.3h.01M837.8 225.6h.01M843.7 231h.01M849.6 236.4h.01M855.5 241.9h.01M861.4 247.5h.01M867.2 253h.01M873.1 258.5h.01M879 263.9h.01M884.9 269.3h.01M890.8 274.6h.01M896.7 279.9h.01M902.6 285h.01M908.5 290.1h.01M914.4 295h.01M920.3 299.9h.01M926.1 304.7h.01M932 309.4h.01M937.9 314.1h.01M943.8 318.6h.01M949.7 323.2h.01M955.6 327.7h.01M961.5 332.2h.01M967.4 336.7h.01M973.3 341.2h.01M979.2 345.7h.01M985 350.1h.01M990.9 354.6h.01M996.8 359.1h.01M1002.7 363.5h.01M1008.6 367.9h.01" fill="none" stroke="#a30000" stroke-width="7.9" stroke-linecap="round"/>
<path d="M600.1 65.3L608.1 66.8L614 68L619.9 69.2L625.8 70.5L631.6 71.8L637.5 73.3L643.4 74.9L649.3 76.6L655.2 78.4L661.1 80.5L667 82.8L672.9 85.2L678.8 87.8L684.7 90.7L690.5 93.7L696.4 96.9L702.3 100.2L708.2 103.8L714.1 107.5L720 111.4L725.9 115.4L731.8 119.6L737.7 124L743.6 128.5L749.4 133.1L755.3 137.8L761.2 142.7L767.1 147.6L773 152.5L778.9 157.4L784.8 162.3L790.7 167.1L796.6 171.9L802.5 176.7L808.3 181.5L814.2 186.4L820.1 191.5L826 196.7L831.9 202L837.8 207.5L843.7 213.1L849.6 218.7L855.5 224.5L861.4 230.2L867.2 235.9L873.1 241.6L879 247.2L884.9 252.8L890.8 258.1L896.7 263.4L902.6 268.5L908.5 273.5L914.4 278.3L920.3 283L926.1 287.6L932 292.1L937.9 296.6L943.8 301L949.7 305.3L955.6 309.5L961.5 313.8L967.4 317.9L973.3 322.1L979.2 326.2L985 330.3L990.9 334.3L996.8 338.3L1002.7 342.2L1008.6 346.2" fill="none" stroke="#800000" stroke-width="3.4" stroke-linejoin="round" stroke-linecap="round"/>
<path d="M600.1 65.3h.01M608.1 66.8h.01M614 68h.01M619.9 69.2h.01M625.8 70.5h.01M631.6 71.8h.01M637.5 73.3h.01M643.4 74.9h.01M649.3 76.6h.01M655.2 78.4h.01M661.1 80.5h.01M667 82.8h.01M672.9 85.2h.01M678.8 87.8h.01M684.7 90.7h.01M690.5 93.7h.01M696.4 96.9h.01M702.3 100.2h.01M708.2 103.8h.01M714.1 107.5h.01M720 111.4h.01M725.9 115.4h.01M731.8 119.6h.01M737.7 124h.01M743.6 128.5h.01M749.4 133.1h.01M755.3 137.8h.01M761.2 142.7h.01M767.1 147.6h.01M773 152.5h.01M778.9 157.4h.01M784.8 162.3h.01M790.7 167.1h.01M796.6 171.9h.01M802.5 176.7h.01M808.3 181.5h.01M814.2 186.4h.01M820.1 191.5h.01M826 196.7h.01M831.9 202h.01M837.8 207.5h.01M843.7 213.1h.01M849.6 218.7h.01M855.5 224.5h.01M861.4 230.2h.01M867.2 235.9h.01M873.1 241.6h.01M879 247.2h.01M884.9 252.8h.01M890.8 258.1h.01M896.7 263.4h.01M902.6 268.5h.01M908.5 273.5h.01M914.4 278.3h.01M920.3 283h.01M926.1 287.6h.01M932 292.1h.01M937.9 296.6h.01M943.8 301h.01M949.7 305.3h.01M955.6 309.5h.01M961.5 313.8h.01M967.4 317.9h.01M973.3 322.1h.01M979.2 326.2h.01M985 330.3h.01M990.9 334.3h.01M996.8 338.3h.01M1002.7 342.2h.01M1008.6 346.2h.01" fill="none" stroke="#800000" stroke-width="7.9" stroke-linecap="round"/>
<text x="577.4" y="659.8" font-size="37.5" text-anchor="end">0</text>
<text x="579.3" y="551" font-size="37.5" text-anchor="end">50</text>
<text x="581.2" y="442.3" font-size="37.5" text-anchor="end">100</text>
<text x="581.2" y="333.5" font-size="37.5" text-anchor="end">150</text>
<text x="581.2" y="224.8" font-size="37.5" text-anchor="end">200</text>
<text x="581.2" y="116" font-size="37.5" text-anchor="end">250</text>
<text x="659.9" y="702.4" font-size="37.5" text-anchor="middle">10</text>
<text x="776.6" y="702.4" font-size="37.5" text-anchor="middle">20</text>
<text x="893.3" y="702.4" font-size="37.5" text-anchor="middle">30</text>
<text x="1010" y="702.4" font-size="37.5" text-anchor="middle">40</text>
<text x="476" y="31.2" font-size="44" text-anchor="start">(c)</text>
<text x="776.6" y="744.2" font-size="37" text-anchor="start"><tspan font-style="italic">T</tspan> (K)</text>
<text transform="translate(504.2 456.8) rotate(-90)" font-size="35.5"><tspan font-style="italic">M</tspan> (emu g<tspan font-size="28" dy="-14">-1</tspan><tspan dy="14">&#8203;</tspan>)</text>
<text x="1028.8" y="45.6" font-size="33.1" text-anchor="start"><tspan font-style="italic">&#956;</tspan><tspan font-size="24.5" dy="11">0</tspan><tspan dy="-11">&#8203;</tspan><tspan font-style="italic">H</tspan> (T) =</text>
<path d="M1037.3 73.6H1089.9" stroke="#800000" stroke-width="4.5"/>
<circle cx="1063.6" cy="73.6" r="8.7" fill="#800000"/>
<text x="1101.5" y="82.8" font-size="29.5" text-anchor="start">5.0</text>
<path d="M1037.3 106.5H1089.9" stroke="#a30000" stroke-width="4.5"/>
<circle cx="1063.6" cy="106.5" r="8.7" fill="#a30000"/>
<text x="1101.5" y="115.7" font-size="29.5" text-anchor="start">4.5</text>
<path d="M1037.3 139.4H1089.9" stroke="#c90000" stroke-width="4.5"/>
<circle cx="1063.6" cy="139.4" r="8.7" fill="#c90000"/>
<text x="1101.5" y="148.6" font-size="29.5" text-anchor="start">4.0</text>
<path d="M1037.3 172.3H1089.9" stroke="#ff0000" stroke-width="4.5"/>
<circle cx="1063.6" cy="172.3" r="8.7" fill="#ff0000"/>
<text x="1101.5" y="181.5" font-size="29.5" text-anchor="start">3.5</text>
<path d="M1037.3 205.2H1089.9" stroke="#ff0000" stroke-width="4.5"/>
<circle cx="1063.6" cy="205.2" r="8.7" fill="#ff0000"/>
<text x="1101.5" y="214.4" font-size="29.5" text-anchor="start">3.0</text>
<path d="M1037.3 238H1089.9" stroke="#ff0000" stroke-width="4.5"/>
<circle cx="1063.6" cy="238" r="8.7" fill="#ff0000"/>
<text x="1101.5" y="247.2" font-size="29.5" text-anchor="start">2.5</text>
<path d="M1037.3 270.9H1089.9" stroke="#ff0000" stroke-width="4.5"/>
<circle cx="1063.6" cy="270.9" r="8.7" fill="#ff0000"/>
<text x="1101.5" y="280.1" font-size="29.5" text-anchor="start">2.0</text>
<path d="M1037.3 303.8H1089.9" stroke="#ff6a00" stroke-width="4.5"/>
<circle cx="1063.6" cy="303.8" r="8.7" fill="#ff6a00"/>
<text x="1101.5" y="313" font-size="29.5" text-anchor="start">1.5</text>
<path d="M1037.3 336.7H1089.9" stroke="#ffaa00" stroke-width="4.5"/>
<circle cx="1063.6" cy="336.7" r="8.7" fill="#ffaa00"/>
<text x="1101.5" y="345.9" font-size="29.5" text-anchor="start">1.0</text>
<path d="M1037.3 369.6H1089.9" stroke="#ffff00" stroke-width="4.5"/>
<circle cx="1063.6" cy="369.6" r="8.7" fill="#ffff00"/>
<text x="1101.5" y="378.8" font-size="29.5" text-anchor="start">0.7</text>
<path d="M1037.3 402.5H1089.9" stroke="#c6ff00" stroke-width="4.5"/>
<circle cx="1063.6" cy="402.5" r="8.7" fill="#c6ff00"/>
<text x="1101.5" y="411.7" font-size="29.5" text-anchor="start">0.5</text>
<path d="M1037.3 435.4H1089.9" stroke="#86ff00" stroke-width="4.5"/>
<circle cx="1063.6" cy="435.4" r="8.7" fill="#86ff00"/>
<text x="1101.5" y="444.6" font-size="29.5" text-anchor="start">0.4</text>
<path d="M1037.3 468.3H1089.9" stroke="#35ff00" stroke-width="4.5"/>
<circle cx="1063.6" cy="468.3" r="8.7" fill="#35ff00"/>
<text x="1101.5" y="477.5" font-size="29.5" text-anchor="start">0.3</text>
<path d="M1037.3 501.2H1089.9" stroke="#00ff6e" stroke-width="4.5"/>
<circle cx="1063.6" cy="501.2" r="8.7" fill="#00ff6e"/>
<text x="1101.5" y="510.4" font-size="29.5" text-anchor="start">0.25</text>
<path d="M1037.3 534.1H1089.9" stroke="#00e6ff" stroke-width="4.5"/>
<circle cx="1063.6" cy="534.1" r="8.7" fill="#00e6ff"/>
<text x="1101.5" y="543.3" font-size="29.5" text-anchor="start">0.2</text>
<path d="M1037.3 567H1089.9" stroke="#0080ff" stroke-width="4.5"/>
<circle cx="1063.6" cy="567" r="8.7" fill="#0080ff"/>
<text x="1101.5" y="576.2" font-size="29.5" text-anchor="start">0.15</text>
<path d="M1037.3 599.8H1089.9" stroke="#0000ff" stroke-width="4.5"/>
<circle cx="1063.6" cy="599.8" r="8.7" fill="#0000ff"/>
<text x="1101.5" y="609" font-size="29.5" text-anchor="start">0.1</text>
<path d="M1037.3 632.7H1089.9" stroke="#6a00ff" stroke-width="4.5"/>
<circle cx="1063.6" cy="632.7" r="8.7" fill="#6a00ff"/>
<text x="1101.5" y="641.9" font-size="29.5" text-anchor="start">0.05</text>
<path d="M1037.3 665.6H1089.9" stroke="#8400b0" stroke-width="4.5"/>
<circle cx="1063.6" cy="665.6" r="8.7" fill="#8400b0"/>
<text x="1101.5" y="674.8" font-size="29.5" text-anchor="start">0.03</text>
<path d="M1037.3 698.5H1089.9" stroke="#600060" stroke-width="4.5"/>
<circle cx="1063.6" cy="698.5" r="8.7" fill="#600060"/>
<text x="1101.5" y="707.7" font-size="29.5" text-anchor="start">0.01</text>
</g>
<g id="pd">
<path d="M1345.6 652.4v-27.3M1428.9 652.4v-27.3M1512.2 652.4v-27.3M1595.5 652.4v-27.3M1678.8 652.4v-27.3M1762.1 652.4v-27.3M1845.4 652.4v-27.3M1928.7 652.4v-27.3" stroke="#000" stroke-width="4.0" fill="none"/>
<path d="M1331.7 637.9h28M1331.7 497.1h28M1331.7 356.4h28M1331.7 215.6h28M1331.7 74.9h28" stroke="#000" stroke-width="4.0" fill="none"/>
<path d="M1331.7 609.8h15.3M1331.7 581.6h15.3M1331.7 553.5h15.3M1331.7 525.3h15.3M1331.7 469h15.3M1331.7 440.9h15.3M1331.7 412.7h15.3M1331.7 384.5h15.3M1331.7 328.2h15.3M1331.7 300.1h15.3M1331.7 271.9h15.3M1331.7 243.8h15.3M1331.7 187.5h15.3M1331.7 159.4h15.3M1331.7 131.2h15.3M1331.7 103h15.3" stroke="#000" stroke-width="4.0" fill="none"/>
<rect x="1331.7" y="47" width="612" height="605.4" fill="none" stroke="#000" stroke-width="4.0"/>
<path d="M1345.6 626.5L1356.9 628.6L1365.3 626.6L1373.7 620.4L1382.2 614.6L1390.6 607.4L1399 601L1407.4 593.7L1415.8 585.8L1424.2 570.8L1432.6 552.2L1441 526.2L1449.4 503.5L1457.8 483.3L1466.2 470.8L1474.6 468.6L1483.1 469.8L1491.5 462.8L1499.9 449.2L1508.3 429.8L1516.7 427.8L1525.1 436.1L1533.5 448.8L1541.9 461.6L1550.3 472.8L1558.7 482.9L1567.1 495.2L1575.5 508.8L1584 517.8L1592.4 526.4L1600.8 538.5L1609.2 548.2L1617.6 557.4L1626 565.9L1634.4 573.7L1642.8 579.8L1651.2 584.8L1659.6 589.2L1668 593.1L1676.4 596.3L1684.9 599.1L1693.3 602L1701.7 604.2L1710.1 606.4L1718.5 607.9L1726.9 609.4L1735.3 611L1743.7 612.7L1752.1 611L1760.5 613.4L1768.9 615.6L1777.3 617.3L1785.8 618.6L1794.2 619.7L1802.6 620.8L1811 621.8L1819.4 622.8L1827.8 623.8L1836.2 624.6L1844.6 625.3L1853 625.8L1861.4 626.2L1869.8 626.7L1878.2 627.2L1886.7 627.7L1895.1 628.1L1903.5 628.5L1911.9 628.8L1920.3 628.8L1928.7 628.8" fill="none" stroke="#0000ff" stroke-width="4" stroke-linejoin="round" stroke-linecap="round"/>
<path d="M1345.6 626.5h.01M1356.9 628.6h.01M1365.3 626.6h.01M1373.7 620.4h.01M1382.2 614.6h.01M1390.6 607.4h.01M1399 601h.01M1407.4 593.7h.01M1415.8 585.8h.01M1424.2 570.8h.01M1432.6 552.2h.01M1441 526.2h.01M1449.4 503.5h.01M1457.8 483.3h.01M1466.2 470.8h.01M1474.6 468.6h.01M1483.1 469.8h.01M1491.5 462.8h.01M1499.9 449.2h.01M1508.3 429.8h.01M1516.7 427.8h.01M1525.1 436.1h.01M1533.5 448.8h.01M1541.9 461.6h.01M1550.3 472.8h.01M1558.7 482.9h.01M1567.1 495.2h.01M1575.5 508.8h.01M1584 517.8h.01M1592.4 526.4h.01M1600.8 538.5h.01M1609.2 548.2h.01M1617.6 557.4h.01M1626 565.9h.01M1634.4 573.7h.01M1642.8 579.8h.01M1651.2 584.8h.01M1659.6 589.2h.01M1668 593.1h.01M1676.4 596.3h.01M1684.9 599.1h.01M1693.3 602h.01M1701.7 604.2h.01M1710.1 606.4h.01M1718.5 607.9h.01M1726.9 609.4h.01M1735.3 611h.01M1743.7 612.7h.01M1752.1 611h.01M1760.5 613.4h.01M1768.9 615.6h.01M1777.3 617.3h.01M1785.8 618.6h.01M1794.2 619.7h.01M1802.6 620.8h.01M1811 621.8h.01M1819.4 622.8h.01M1827.8 623.8h.01M1836.2 624.6h.01M1844.6 625.3h.01M1853 625.8h.01M1861.4 626.2h.01M1869.8 626.7h.01M1878.2 627.2h.01M1886.7 627.7h.01M1895.1 628.1h.01M1903.5 628.5h.01M1911.9 628.8h.01M1920.3 628.8h.01M1928.7 628.8h.01" fill="none" stroke="#0000ff" stroke-width="16.4" stroke-linecap="round"/>
<path d="M1345.6 617.1L1356.9 618L1365.3 612.4L1373.7 600.1L1382.2 589.6L1390.6 577.2L1399 563.2L1407.4 549.2L1415.8 531.7L1424.2 506.7L1432.6 477.9L1441 438.8L1449.4 402L1457.8 368.4L1466.2 347.3L1474.6 347.3L1483.1 347.1L1491.5 338.2L1499.9 320.8L1508.3 300.4L1516.7 295.9L1525.1 299.1L1533.5 309.4L1541.9 322.9L1550.3 333L1558.7 344.7L1567.1 356.3L1575.5 366.4L1584 377.4L1592.4 394.8L1600.8 413.6L1609.2 422.8L1617.6 433.8L1626 446.6L1634.4 457.8L1642.8 468.9L1651.2 479.9L1659.6 488.7L1668 497.8L1676.4 505.6L1684.9 512.8L1693.3 518.3L1701.7 523.9L1710.1 530.2L1718.5 535.8L1726.9 539.6L1735.3 545.1L1743.7 549.5L1752.1 553.4L1760.5 557.7L1768.9 562L1777.3 565.5L1785.8 568.9L1794.2 572.5L1802.6 576.1L1811 579.2L1819.4 581.8L1827.8 584.4L1836.2 587L1844.6 589L1853 591.2L1861.4 593.1L1869.8 595L1878.2 597.2L1886.7 598.7L1895.1 600.2L1903.5 601L1911.9 601.6L1920.3 601.6L1928.7 599.5" fill="none" stroke="#00c8c8" stroke-width="4" stroke-linejoin="round" stroke-linecap="round"/>
<path d="M1345.6 617.1h.01M1356.9 618h.01M1365.3 612.4h.01M1373.7 600.1h.01M1382.2 589.6h.01M1390.6 577.2h.01M1399 563.2h.01M1407.4 549.2h.01M1415.8 531.7h.01M1424.2 506.7h.01M1432.6 477.9h.01M1441 438.8h.01M1449.4 402h.01M1457.8 368.4h.01M1466.2 347.3h.01M1474.6 347.3h.01M1483.1 347.1h.01M1491.5 338.2h.01M1499.9 320.8h.01M1508.3 300.4h.01M1516.7 295.9h.01M1525.1 299.1h.01M1533.5 309.4h.01M1541.9 322.9h.01M1550.3 333h.01M1558.7 344.7h.01M1567.1 356.3h.01M1575.5 366.4h.01M1584 377.4h.01M1592.4 394.8h.01M1600.8 413.6h.01M1609.2 422.8h.01M1617.6 433.8h.01M1626 446.6h.01M1634.4 457.8h.01M1642.8 468.9h.01M1651.2 479.9h.01M1659.6 488.7h.01M1668 497.8h.01M1676.4 505.6h.01M1684.9 512.8h.01M1693.3 518.3h.01M1701.7 523.9h.01M1710.1 530.2h.01M1718.5 535.8h.01M1726.9 539.6h.01M1735.3 545.1h.01M1743.7 549.5h.01M1752.1 553.4h.01M1760.5 557.7h.01M1768.9 562h.01M1777.3 565.5h.01M1785.8 568.9h.01M1794.2 572.5h.01M1802.6 576.1h.01M1811 579.2h.01M1819.4 581.8h.01M1827.8 584.4h.01M1836.2 587h.01M1844.6 589h.01M1853 591.2h.01M1861.4 593.1h.01M1869.8 595h.01M1878.2 597.2h.01M1886.7 598.7h.01M1895.1 600.2h.01M1903.5 601h.01M1911.9 601.6h.01M1920.3 601.6h.01M1928.7 599.5h.01" fill="none" stroke="#00c8c8" stroke-width="16.4" stroke-linecap="round"/>
<path d="M1345.6 610L1356.9 609.8L1365.3 602L1373.7 587.5L1382.2 575.8L1390.6 561.8L1399 542L1407.4 521L1415.8 501.4L1424.2 465.8L1432.6 429.1L1441 380.6L1449.4 335.2L1457.8 290.4L1466.2 263.5L1474.6 265.2L1483.1 269L1491.5 256L1499.9 230.9L1508.3 208.8L1516.7 203.5L1525.1 203.5L1533.5 209.7L1541.9 220.9L1550.3 231.4L1558.7 245L1567.1 258.7L1575.5 269.7L1584 278L1592.4 295.8L1600.8 307.8L1609.2 314.4L1617.6 330.4L1626 345.7L1634.4 356L1642.8 366.9L1651.2 381.9L1659.6 391.7L1668 400.8L1676.4 408.6L1684.9 417.7L1693.3 427.6L1701.7 437.5L1710.1 446.5L1718.5 453.4L1726.9 460.5L1735.3 467.7L1743.7 474.4L1752.1 480.2L1760.5 487.7L1768.9 495.3L1777.3 501.6L1785.8 506.4L1794.2 511.4L1802.6 516.2L1811 520.6L1819.4 526.9L1827.8 532L1836.2 535L1844.6 538.4L1853 542.8L1861.4 546.1L1869.8 549.7L1878.2 554L1886.7 557.3L1895.1 558.9L1903.5 560.2L1911.9 561.7L1920.3 563L1928.7 560.3" fill="none" stroke="#22ff00" stroke-width="4" stroke-linejoin="round" stroke-linecap="round"/>
<path d="M1345.6 610h.01M1356.9 609.8h.01M1365.3 602h.01M1373.7 587.5h.01M1382.2 575.8h.01M1390.6 561.8h.01M1399 542h.01M1407.4 521h.01M1415.8 501.4h.01M1424.2 465.8h.01M1432.6 429.1h.01M1441 380.6h.01M1449.4 335.2h.01M1457.8 290.4h.01M1466.2 263.5h.01M1474.6 265.2h.01M1483.1 269h.01M1491.5 256h.01M1499.9 230.9h.01M1508.3 208.8h.01M1516.7 203.5h.01M1525.1 203.5h.01M1533.5 209.7h.01M1541.9 220.9h.01M1550.3 231.4h.01M1558.7 245h.01M1567.1 258.7h.01M1575.5 269.7h.01M1584 278h.01M1592.4 295.8h.01M1600.8 307.8h.01M1609.2 314.4h.01M1617.6 330.4h.01M1626 345.7h.01M1634.4 356h.01M1642.8 366.9h.01M1651.2 381.9h.01M1659.6 391.7h.01M1668 400.8h.01M1676.4 408.6h.01M1684.9 417.7h.01M1693.3 427.6h.01M1701.7 437.5h.01M1710.1 446.5h.01M1718.5 453.4h.01M1726.9 460.5h.01M1735.3 467.7h.01M1743.7 474.4h.01M1752.1 480.2h.01M1760.5 487.7h.01M1768.9 495.3h.01M1777.3 501.6h.01M1785.8 506.4h.01M1794.2 511.4h.01M1802.6 516.2h.01M1811 520.6h.01M1819.4 526.9h.01M1827.8 532h.01M1836.2 535h.01M1844.6 538.4h.01M1853 542.8h.01M1861.4 546.1h.01M1869.8 549.7h.01M1878.2 554h.01M1886.7 557.3h.01M1895.1 558.9h.01M1903.5 560.2h.01M1911.9 561.7h.01M1920.3 563h.01M1928.7 560.3h.01" fill="none" stroke="#22ff00" stroke-width="16.4" stroke-linecap="round"/>
<path d="M1345.6 601.7L1356.9 600.9L1365.3 591.8L1373.7 577.7L1382.2 565.6L1390.6 548.5L1399 518.8L1407.4 493.9L1415.8 476L1424.2 431.2L1432.6 388.3L1441 343.6L1449.4 293.3L1457.8 236.6L1466.2 200.2L1474.6 203.5L1483.1 209.7L1491.5 190.8L1499.9 164.6L1508.3 141L1516.7 133.9L1525.1 131.8L1533.5 135.2L1541.9 145L1550.3 153.1L1558.7 164L1567.1 174.8L1575.5 186.2L1584 194.2L1592.4 211.8L1600.8 220.3L1609.2 226.4L1617.6 240.9L1626 255.9L1634.4 267.5L1642.8 281.2L1651.2 292.3L1659.6 302.1L1668 310.5L1676.4 320.6L1684.9 331L1693.3 339.8L1701.7 354.5L1710.1 366.5L1718.5 375.1L1726.9 382.6L1735.3 391.9L1743.7 403.2L1752.1 406.8L1760.5 410.2L1768.9 419.4L1777.3 430.2L1785.8 436.4L1794.2 441.1L1802.6 446.8L1811 451.7L1819.4 460.2L1827.8 468L1836.2 472.2L1844.6 477.1L1853 482.7L1861.4 488.4L1869.8 492.9L1878.2 498.2L1886.7 502.8L1895.1 507.2L1903.5 508.7L1911.9 511.4L1920.3 516.9L1928.7 515.6" fill="none" stroke="#ffa500" stroke-width="4" stroke-linejoin="round" stroke-linecap="round"/>
<path d="M1345.6 601.7h.01M1356.9 600.9h.01M1365.3 591.8h.01M1373.7 577.7h.01M1382.2 565.6h.01M1390.6 548.5h.01M1399 518.8h.01M1407.4 493.9h.01M1415.8 476h.01M1424.2 431.2h.01M1432.6 388.3h.01M1441 343.6h.01M1449.4 293.3h.01M1457.8 236.6h.01M1466.2 200.2h.01M1474.6 203.5h.01M1483.1 209.7h.01M1491.5 190.8h.01M1499.9 164.6h.01M1508.3 141h.01M1516.7 133.9h.01M1525.1 131.8h.01M1533.5 135.2h.01M1541.9 145h.01M1550.3 153.1h.01M1558.7 164h.01M1567.1 174.8h.01M1575.5 186.2h.01M1584 194.2h.01M1592.4 211.8h.01M1600.8 220.3h.01M1609.2 226.4h.01M1617.6 240.9h.01M1626 255.9h.01M1634.4 267.5h.01M1642.8 281.2h.01M1651.2 292.3h.01M1659.6 302.1h.01M1668 310.5h.01M1676.4 320.6h.01M1684.9 331h.01M1693.3 339.8h.01M1701.7 354.5h.01M1710.1 366.5h.01M1718.5 375.1h.01M1726.9 382.6h.01M1735.3 391.9h.01M1743.7 403.2h.01M1752.1 406.8h.01M1760.5 410.2h.01M1768.9 419.4h.01M1777.3 430.2h.01M1785.8 436.4h.01M1794.2 441.1h.01M1802.6 446.8h.01M1811 451.7h.01M1819.4 460.2h.01M1827.8 468h.01M1836.2 472.2h.01M1844.6 477.1h.01M1853 482.7h.01M1861.4 488.4h.01M1869.8 492.9h.01M1878.2 498.2h.01M1886.7 502.8h.01M1895.1 507.2h.01M1903.5 508.7h.01M1911.9 511.4h.01M1920.3 516.9h.01M1928.7 515.6h.01" fill="none" stroke="#ffa500" stroke-width="16.4" stroke-linecap="round"/>
<path d="M1345.6 593.6L1356.9 592.5L1365.3 583.4L1373.7 565.1L1382.2 550.9L1390.6 535.7L1399 503.7L1407.4 473.4L1415.8 454.9L1424.2 407.7L1432.6 355.2L1441 298.5L1449.4 241.5L1457.8 183.3L1466.2 148.1L1474.6 152.9L1483.1 159.5L1491.5 141.4L1499.9 110.5L1508.3 83.2L1516.7 76.2L1525.1 73.9L1533.5 76.2L1541.9 83.1L1550.3 88.9L1558.7 98L1567.1 108.8L1575.5 118.2L1584 125.2L1592.4 141.9L1600.8 150.3L1609.2 155.1L1617.6 169.1L1626 184.1L1634.4 192.3L1642.8 207.7L1651.2 222.5L1659.6 231.1L1668 238.8L1676.4 250.6L1684.9 259.1L1693.3 263.3L1701.7 279.7L1710.1 295.8L1718.5 302.6L1726.9 308.8L1735.3 315.3L1743.7 331.4L1752.1 335L1760.5 339L1768.9 354.8L1777.3 365.2L1785.8 369.8L1794.2 375.1L1802.6 383.4L1811 389.3L1819.4 399.1L1827.8 408.2L1836.2 412.4L1844.6 417.1L1853 424.3L1861.4 432.1L1869.8 438.1L1878.2 443.6L1886.7 449.4L1895.1 455.1L1903.5 458.1L1911.9 460.8L1920.3 467.6L1928.7 466.3" fill="none" stroke="#ff0000" stroke-width="4" stroke-linejoin="round" stroke-linecap="round"/>
<path d="M1345.6 593.6h.01M1356.9 592.5h.01M1365.3 583.4h.01M1373.7 565.1h.01M1382.2 550.9h.01M1390.6 535.7h.01M1399 503.7h.01M1407.4 473.4h.01M1415.8 454.9h.01M1424.2 407.7h.01M1432.6 355.2h.01M1441 298.5h.01M1449.4 241.5h.01M1457.8 183.3h.01M1466.2 148.1h.01M1474.6 152.9h.01M1483.1 159.5h.01M1491.5 141.4h.01M1499.9 110.5h.01M1508.3 83.2h.01M1516.7 76.2h.01M1525.1 73.9h.01M1533.5 76.2h.01M1541.9 83.1h.01M1550.3 88.9h.01M1558.7 98h.01M1567.1 108.8h.01M1575.5 118.2h.01M1584 125.2h.01M1592.4 141.9h.01M1600.8 150.3h.01M1609.2 155.1h.01M1617.6 169.1h.01M1626 184.1h.01M1634.4 192.3h.01M1642.8 207.7h.01M1651.2 222.5h.01M1659.6 231.1h.01M1668 238.8h.01M1676.4 250.6h.01M1684.9 259.1h.01M1693.3 263.3h.01M1701.7 279.7h.01M1710.1 295.8h.01M1718.5 302.6h.01M1726.9 308.8h.01M1735.3 315.3h.01M1743.7 331.4h.01M1752.1 335h.01M1760.5 339h.01M1768.9 354.8h.01M1777.3 365.2h.01M1785.8 369.8h.01M1794.2 375.1h.01M1802.6 383.4h.01M1811 389.3h.01M1819.4 399.1h.01M1827.8 408.2h.01M1836.2 412.4h.01M1844.6 417.1h.01M1853 424.3h.01M1861.4 432.1h.01M1869.8 438.1h.01M1878.2 443.6h.01M1886.7 449.4h.01M1895.1 455.1h.01M1903.5 458.1h.01M1911.9 460.8h.01M1920.3 467.6h.01M1928.7 466.3h.01" fill="none" stroke="#ff0000" stroke-width="16.4" stroke-linecap="round"/>
<text x="1317.9" y="650.2" font-size="37.5" text-anchor="end">0</text>
<text x="1320.4" y="509.4" font-size="37.5" text-anchor="end">10</text>
<text x="1320.4" y="368.7" font-size="37.5" text-anchor="end">20</text>
<text x="1320.4" y="227.9" font-size="37.5" text-anchor="end">30</text>
<text x="1320.4" y="87.2" font-size="37.5" text-anchor="end">40</text>
<text x="1348" y="696.1" font-size="37.5" text-anchor="middle">5</text>
<text x="1431.3" y="696.1" font-size="37.5" text-anchor="middle">10</text>
<text x="1514.6" y="696.1" font-size="37.5" text-anchor="middle">15</text>
<text x="1597.9" y="696.1" font-size="37.5" text-anchor="middle">20</text>
<text x="1681.2" y="696.1" font-size="37.5" text-anchor="middle">25</text>
<text x="1764.5" y="696.1" font-size="37.5" text-anchor="middle">30</text>
<text x="1847.8" y="696.1" font-size="37.5" text-anchor="middle">35</text>
<text x="1931.1" y="696.1" font-size="37.5" text-anchor="middle">40</text>
<text x="1223.4" y="31.6" font-size="44" text-anchor="start">(d)</text>
<text x="1599.3" y="734" font-size="35" text-anchor="start"><tspan font-style="italic">T</tspan> (K)</text>
<text transform="translate(1261.3 492) rotate(-90)" font-size="34.8">|&#916;S<tspan font-size="28" dy="12">M</tspan><tspan dy="-12">&#8203;</tspan>|&#160;&#160;(J kg<tspan font-size="28.5" dy="-13.5">-1</tspan><tspan dy="13.5">&#8203;</tspan> K<tspan font-size="28.5" dy="-13.5">-1</tspan><tspan dy="13.5">&#8203;</tspan>)</text>
<text x="1818.4" y="373.2" font-size="31.6" text-anchor="start"><tspan font-style="italic">&#956;</tspan><tspan font-size="25" dy="10.5">0</tspan><tspan dy="-10.5">&#8203;</tspan>&#916;<tspan font-style="italic">H</tspan><tspan dx="2.6">&#160;&#160;=</tspan></text>
<text x="1862.4" y="424.8" font-size="31.4" text-anchor="start">5<tspan dx="3.6"> T</tspan></text>
<text x="1832.4" y="471.3" font-size="31.4" text-anchor="start">4<tspan dx="3.6"> T</tspan></text>
<text x="1806.4" y="514.7" font-size="31.4" text-anchor="start">3<tspan dx="3.6"> T</tspan></text>
<text x="1769.7" y="556.9" font-size="31.4" text-anchor="start">2<tspan dx="3.6"> T</tspan></text>
<text x="1739.1" y="601.3" font-size="31.4" text-anchor="start">1<tspan dx="0.3"> T</tspan></text>
</g>
</svg>
</body></html>
